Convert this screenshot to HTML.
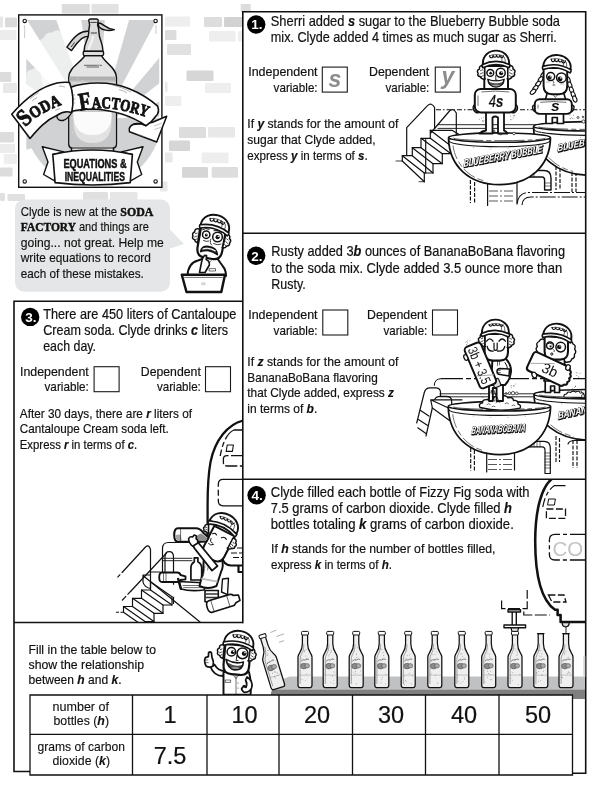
<!DOCTYPE html>
<html lang="en">
<head>
<meta charset="utf-8">
<title>Soda Factory – Equations &amp; Inequalities</title>
<style>
html,body{margin:0;padding:0;background:#fff;}
body{width:600px;height:793px;position:relative;overflow:hidden;font-family:"Liberation Sans",sans-serif;}
svg{position:absolute;left:0;top:0;display:block;will-change:transform;}
text{font-family:"Liberation Sans",sans-serif;fill:#111;}
.m{font-size:14.1px;stroke:#111;stroke-width:.2px;}
.s{font-size:12.4px;stroke:#111;stroke-width:.18px;}
.bb{font-size:13px;stroke:#111;stroke-width:.15px;}
.sf{font-family:"Liberation Serif",serif;font-weight:bold;font-size:13.5px;stroke-width:.5px;}
.v{font-weight:bold;font-style:italic;}
.tl{font-size:12.2px;stroke:#111;stroke-width:.12px;}
.td{font-size:23.5px;text-anchor:middle;stroke:#111;stroke-width:.2px;}
.num{font-size:13.5px;font-weight:bold;fill:#fff;text-anchor:middle;}
.ln{fill:none;stroke:#111;stroke-width:1.6;}
.k{fill:none;stroke:#111;stroke-width:1.2;stroke-linecap:round;stroke-linejoin:round;}
.kw{fill:#fff;stroke:#111;stroke-width:1.2;stroke-linecap:round;stroke-linejoin:round;}
.kt{fill:none;stroke:#111;stroke-width:.6;stroke-linecap:round;stroke-linejoin:round;}
.ktw{fill:#fff;stroke:#111;stroke-width:.6;stroke-linecap:round;stroke-linejoin:round;}
.kb{fill:#fff;stroke:#111;stroke-width:1.5;stroke-linecap:round;stroke-linejoin:round;}
.kd{fill:none;stroke:#111;stroke-width:1.15;stroke-dasharray:5 2 1.5 2;}
.gv{font-size:23px;font-style:italic;font-weight:bold;text-anchor:middle;fill:#8c8c8c;}
</style>
</head>
<body>
<svg width="600" height="793" viewBox="0 0 600 793">
<g id="bricks">
<rect x="61.8" y="4.0" width="28.0" height="9.5" rx="1.2" fill="#dcdcdc"/>
<rect x="91.5" y="4.0" width="27.0" height="9.5" rx="1.2" fill="#e2e2e2"/>
<rect x="240.7" y="4.0" width="10.0" height="8.6" rx="1.2" fill="#dcdcdc"/>
<rect x="0.0" y="16.4" width="3.0" height="11.0" rx="1.2" fill="#e6e6e6"/>
<rect x="5.0" y="17.6" width="12.0" height="9.6" rx="1.2" fill="#dadada"/>
<rect x="0.0" y="30.0" width="16.4" height="10.0" rx="1.2" fill="#ececec"/>
<rect x="0.0" y="72.0" width="11.3" height="10.0" rx="1.2" fill="#dcdcdc"/>
<rect x="3.0" y="83.0" width="14.0" height="10.0" rx="1.2" fill="#e8e8e8"/>
<rect x="0.0" y="132.0" width="14.0" height="10.4" rx="1.2" fill="#dcdcdc"/>
<rect x="0.0" y="144.0" width="15.0" height="9.0" rx="1.2" fill="#ececec"/>
<rect x="3.8" y="154.0" width="13.2" height="10.0" rx="1.2" fill="#eeeeee"/>
<rect x="0.0" y="167.6" width="12.6" height="9.0" rx="1.2" fill="#dcdcdc"/>
<rect x="0.0" y="193.0" width="5.0" height="8.0" rx="1.2" fill="#e0e0e0"/>
<rect x="7.5" y="194.0" width="17.5" height="7.0" rx="1.2" fill="#e0e0e0"/>
<rect x="165.0" y="16.4" width="25.0" height="10.2" rx="1.2" fill="#eeeeee"/>
<rect x="204.0" y="17.0" width="18.0" height="10.0" rx="1.2" fill="#dddddd"/>
<rect x="224.0" y="17.0" width="19.0" height="10.0" rx="1.2" fill="#d2d2d2"/>
<rect x="165.0" y="30.0" width="11.4" height="10.0" rx="1.2" fill="#dcdcdc"/>
<rect x="209.0" y="31.0" width="26.6" height="10.6" rx="1.2" fill="#eeeeee"/>
<rect x="238.0" y="31.0" width="5.0" height="10.6" rx="1.2" fill="#eeeeee"/>
<rect x="167.0" y="44.0" width="24.0" height="11.0" rx="1.2" fill="#e1e1e1"/>
<rect x="186.5" y="70.6" width="27.0" height="10.4" rx="1.2" fill="#d6d6d6"/>
<rect x="205.0" y="83.0" width="26.0" height="10.0" rx="1.2" fill="#eeeeee"/>
<rect x="165.0" y="82.0" width="2.5" height="10.0" rx="1.2" fill="#e8e8e8"/>
<rect x="165.0" y="96.0" width="16.4" height="10.0" rx="1.2" fill="#eeeeee"/>
<rect x="179.0" y="127.0" width="27.0" height="11.0" rx="1.2" fill="#dddddd"/>
<rect x="208.0" y="127.0" width="27.0" height="10.4" rx="1.2" fill="#e8e8e8"/>
<rect x="169.0" y="140.6" width="21.0" height="10.4" rx="1.2" fill="#d6d6d6"/>
<rect x="165.0" y="152.5" width="7.6" height="10.0" rx="1.2" fill="#e8e8e8"/>
<rect x="201.6" y="152.5" width="27.0" height="10.8" rx="1.2" fill="#eeeeee"/>
<rect x="182.0" y="167.0" width="26.0" height="10.7" rx="1.2" fill="#d6d6d6"/>
<rect x="211.7" y="167.0" width="26.3" height="10.7" rx="1.2" fill="#dddddd"/>
<rect x="160.0" y="181.5" width="7.5" height="10.0" rx="1.2" fill="#e8e8e8"/>
<rect x="83.0" y="192.0" width="25.0" height="8.5" rx="1.2" fill="#e0e0e0"/>
<rect x="110.0" y="192.0" width="27.5" height="8.5" rx="1.2" fill="#e6e6e6"/>
</g>
<g id="poster">
<defs><clipPath id="pc"><rect x="26.3" y="20" width="132.9" height="165"/></clipPath></defs>
<rect x="18.4" y="14.6" width="143.8" height="173" fill="#fff"/>
<g clip-path="url(#pc)">
<path d="M97.0,132.0 L-19.6,-54.6 L21.8,-74.7Z M97.0,132.0 L66.4,-85.9 L112.3,-87.5Z M97.0,132.0 L157.6,-79.5 L200.3,-62.2Z M97.0,132.0 L238.4,-36.5 L270.4,-3.4Z M97.0,132.0 L294.7,35.6 L310.5,78.8Z M97.0,132.0 L-116.5,185.2 L-122.9,139.7Z M97.0,132.0 L-119.7,93.8 L-107.0,49.6Z M97.0,132.0 L-85.4,9.0 L-55.8,-26.3Z" fill="#d0d2d3"/>
<path d="M37,50 Q38,40 44,37.5 Q46,32 52,32.5 Q57,28.5 63,32 Q70,29.5 75,35 Q81,36 82,42 L92,100 L45,100 Z" fill="#fff" opacity=".62"/>
<path d="M26,76 Q27,69 32,69.5 Q37,66 41,71 Q46,72 46,78 Q50,81 48,86 L62,104 L26,104Z" fill="#fff" opacity=".62"/>
<path d="M20,112 H166 V190 H20Z" fill="none"/>
<path d="M24.5,118 A68.5,68.5 0 0 0 161.5,118Z" fill="#d0d2d3"/>
</g>
<rect x="18.7" y="14.9" width="143.2" height="172.4" fill="none" stroke="#111" stroke-width="1.4"/>
<circle cx="24.7" cy="20.9" r="1.7" fill="#fff" stroke="#111" stroke-width="1.1"/>
<circle cx="155.6" cy="20.9" r="1.7" fill="#fff" stroke="#111" stroke-width="1.1"/>
<circle cx="24.7" cy="181.4" r="1.7" fill="#fff" stroke="#111" stroke-width="1.1"/>
<circle cx="155.6" cy="181.4" r="1.7" fill="#fff" stroke="#111" stroke-width="1.1"/>
<path d="M24.3,25 q.8,5 .2,13 M155.8,25 q.6,4 0,9" stroke="#ccc" stroke-width="1" fill="none"/>
<path d="M85,55.5 C80,63 68.8,68 68.8,77 V144 Q68.8,147.5 71.5,148 V152.5 Q71.5,156 75,156 H110 Q113.5,156 113.5,152.5 V148 Q116.4,147.5 116.4,144 V77 C116.4,68 105,63 101.5,55.5Z" fill="#e4e4e4" stroke="#111" stroke-width="1.5" stroke-linejoin="round"/>
<path d="M69.6,78 H115.6 V144 Q115.6,147 112.5,147.2 H72.5 Q69.6,147 69.6,144Z" fill="#c6c7c9"/>
<path d="M69.6,76.5 H115.6 V80.5 H69.6Z" fill="#b0b0b0"/>
<path d="M69.6,82 H115.6 V84.5 H69.6Z" fill="#d8d8d8"/>
<path d="M73.5,112 V122 Q73.5,143 92.5,143 Q111.5,143 111.5,122 V112Z" fill="#e2e2e2"/>
<path d="M73.5,112 V117 Q75,135 92.5,135 Q110,135 111.5,117 V112Z" fill="#fbfbfb"/>
<path d="M71.5,148 H113.5" stroke="#111" stroke-width="1" fill="none"/>
<path d="M84,65.3 H102 M86.5,67 H99" stroke="#111" stroke-width=".6" fill="none"/>
<circle cx="81.8" cy="106.8" r=".45" fill="#f4f4f4"/>
<circle cx="87.2" cy="111.9" r=".45" fill="#f4f4f4"/>
<circle cx="97.7" cy="65.6" r=".45" fill="#f4f4f4"/>
<circle cx="72.5" cy="132.0" r=".45" fill="#f4f4f4"/>
<circle cx="82.6" cy="80.2" r=".45" fill="#f4f4f4"/>
<circle cx="112.8" cy="100.4" r=".45" fill="#f4f4f4"/>
<circle cx="106.3" cy="101.0" r=".45" fill="#f4f4f4"/>
<circle cx="98.2" cy="73.0" r=".45" fill="#f4f4f4"/>
<circle cx="98.0" cy="134.7" r=".45" fill="#f4f4f4"/>
<circle cx="93.5" cy="123.7" r=".45" fill="#f4f4f4"/>
<circle cx="99.5" cy="65.5" r=".45" fill="#f4f4f4"/>
<circle cx="103.1" cy="110.8" r=".45" fill="#f4f4f4"/>
<circle cx="84.4" cy="62.7" r=".45" fill="#f4f4f4"/>
<circle cx="107.5" cy="100.7" r=".45" fill="#f4f4f4"/>
<circle cx="101.5" cy="135.6" r=".45" fill="#f4f4f4"/>
<circle cx="101.3" cy="139.2" r=".45" fill="#f4f4f4"/>
<circle cx="88.2" cy="128.9" r=".45" fill="#f4f4f4"/>
<circle cx="90.2" cy="140.5" r=".45" fill="#f4f4f4"/>
<circle cx="77.6" cy="78.7" r=".45" fill="#f4f4f4"/>
<circle cx="111.6" cy="97.5" r=".45" fill="#f4f4f4"/>
<circle cx="97.7" cy="85.9" r=".45" fill="#f4f4f4"/>
<circle cx="92.8" cy="93.2" r=".45" fill="#f4f4f4"/>
<circle cx="86.4" cy="110.3" r=".45" fill="#f4f4f4"/>
<circle cx="96.0" cy="137.8" r=".45" fill="#f4f4f4"/>
<circle cx="100.0" cy="139.9" r=".45" fill="#f4f4f4"/>
<path d="M89.8,36.5 C84,35.5 80,38.5 71.5,50.6 L66.9,47.2 C75,35 81,30.5 89.5,31.3Z" fill="#d6d6d6" stroke="#111" stroke-width="1.4" stroke-linejoin="round"/>
<path d="M71,47 l3.6,-4.6" stroke="#111" stroke-width=".8" fill="none"/>
<path d="M98,22.8 C104,23 105,29 114.3,29.6 C108,31.5 102,30 99,27Z" fill="#d6d6d6" stroke="#111" stroke-width="1.4" stroke-linejoin="round"/>
<path d="M89,21.5 Q88,19 91,19 H96 Q99,19 98,21.5 L97.6,25 Q99,29 99,33 C99,40 103,42 103,51.5 H84 C84,42 88.7,40 88.7,33 Q88.7,29 89.6,25Z" fill="#dcdcdc" stroke="#111" stroke-width="1.4" stroke-linejoin="round"/>
<path d="M93,36 C93,43 89,45 88.5,50" stroke="#f6f6f6" stroke-width="2" fill="none"/>
<path d="M90.3,22.4 H96.8 M90.8,33 H97" stroke="#111" stroke-width=".8" fill="none"/>
<rect x="83.2" y="51.2" width="20.4" height="4.4" rx="1.6" fill="#dcdcdc" stroke="#111" stroke-width="1.4"/>
<path d="M133,124.5 Q128,127 129.5,131.8 L156.7,142 L166.7,116.3 L152,122.5 Z" fill="#fff" stroke="#111" stroke-width="1.5" stroke-linejoin="round"/>
<path d="M154,126 l8,-2.8 M154.5,129.5 l6.5,-2.2 M136,133.5 l8,3" stroke="#888" stroke-width=".5" fill="none"/>
<path d="M71.7,112.5 Q68,119 63,120.5 Q57,121 56.7,115.5 Q60,111 66,110Z" fill="#d0d0d0" stroke="#111" stroke-width="1.4" stroke-linejoin="round"/>
<path d="M70.1,87.5 C84,82 110,80.5 129.2,88.7 C141,93.5 151,100 157.6,106.2 Q160,112 156,116 Q152,122 146,125.8 C132,116 112,110 92.5,109 Q80,109 70.1,111.7 Q75,100 70.1,87.5Z" fill="#fff" stroke="#111" stroke-width="1.6" stroke-linejoin="round"/>
<path d="M146,125.8 Q138,122 133,124.5" stroke="#111" stroke-width="1.5" fill="none"/>
<path d="M11.75,114.3 C24,100 40,87 57,83 Q64,81.8 69.5,82.5 Q75,97 71.7,112.5 Q64,110 56.7,115.5 C46,120 38,129 30,138.5 Z" fill="#fff" stroke="#111" stroke-width="1.6" stroke-linejoin="round"/>
<path d="M30,99 q5,-4.5 9,-6.5 M32,101 q3,-2.5 5,-3.5 M59,86 q4,.3 6,1 M55,110.5 q3,-1.5 5,-1.8 M111,84.5 q12,3 20,7.5 M119,89.5 q5,1.6 8,3.4 M73,95 h2 M73.5,99 h2 M73.2,103 h2" stroke="#666" stroke-width=".5" fill="none"/>
<defs><path id="tp1" d="M25.5,127.5 Q38,112.5 66,103.2"/><path id="tp2" d="M80,110.6 Q101,105.8 124,110.8 T150,120"/></defs>
<text style="font-family:'Liberation Serif',serif;font-weight:bold;font-size:16.5px;fill:#111;stroke:#111;stroke-width:.9px"><textPath href="#tp1" textLength="43.5" lengthAdjust="spacingAndGlyphs"><tspan font-size="24px">S</tspan>ODA</textPath></text>
<text style="font-family:'Liberation Serif',serif;font-weight:bold;font-size:16.5px;fill:#111;stroke:#111;stroke-width:.9px"><textPath href="#tp2" textLength="68" lengthAdjust="spacingAndGlyphs"><tspan font-size="25px">F</tspan>ACTORY</textPath></text>
<path d="M42.3,146.7 L63.8,151.9 V176 L55.1,181.2 L43.6,174.5 L48,162Z" fill="#fff" stroke="#111" stroke-width="1.4" stroke-linejoin="round"/>
<path d="M143,146.7 L121.5,151.9 V176 L130.2,181.2 L141.7,174.5 L137.3,162Z" fill="#fff" stroke="#111" stroke-width="1.4" stroke-linejoin="round"/>
<path d="M52.8,154.4 L63.8,151.9 L63.8,156Z M132.4,154.4 L121.5,151.9 L121.5,156Z" fill="#111" stroke="#111" stroke-width="1" stroke-linejoin="round"/>
<path d="M52.8,154.4 Q92.5,145.5 132.4,154.4 L130.2,182.6 Q92.5,187.5 55.1,182.6Z" fill="#fff" stroke="#111" stroke-width="1.6" stroke-linejoin="round"/>
<text x="63.4" y="167.8" textLength="63.2" lengthAdjust="spacingAndGlyphs" style="font-weight:bold;font-size:12.6px;fill:#111;stroke:#111;stroke-width:.5px">EQUATIONS &amp;</text>
<text x="64.7" y="180.6" textLength="60.3" lengthAdjust="spacingAndGlyphs" style="font-weight:bold;font-size:12.6px;fill:#111;stroke:#111;stroke-width:.5px">INEQUALITIES</text>
</g>
<g id="bubble">
<path d="M24,199.6 H161 a9,9 0 0 1 9,9 V229.5 L184,244 L170,248.5 V282.7 a9,9 0 0 1 -9,9 H24 a9,9 0 0 1 -9,-9 V208.6 a9,9 0 0 1 9,-9z" fill="#e5e6e7"/>
<path d="M187.5,276 Q188,263 198,260.5 L205,258 H217 L223,266.5 Q226,270 226,276Z" fill="#fff" stroke="#111" stroke-linecap="round" stroke-linejoin="round" stroke-width="1.95"/>
<path d="M209.5,268.6 h6 v2.4 h-6z" class="kt"/><path d="M206.6,259.6 l1.6,4.6 l3,-3.6" class="kt"/>
<g transform="rotate(10 211 240)">
<path d="M199,226 V249 Q199,258.5 207.5,258.5 H215.5 Q224,258.5 224,249 V226Z" fill="#fff" stroke="#111" stroke-linecap="round" stroke-linejoin="round" stroke-width="2.2"/>
</g>
<g transform="rotate(8 199 229)"><path d="M199.6,229.0 q-5.0,-0.7 -4.5,3.5 q-2.8,1.4 -1.1,4.2 q-1.1,2.8 2.0,3.5 q0.6,2.1 3.6,2.8 q1.1,-1.4 0.0,0.0 Z" fill="#fff" stroke="#111" stroke-linecap="round" stroke-linejoin="round" stroke-width="1.5"/><path d="M198.2,233.2 l-2.5,1.1 M198.5,236.0 l-3.1,1.7 M198.8,238.8 l-2.2,1.4" fill="none" stroke="#111" stroke-width=".7"/></g>
<g transform="rotate(14 226 234)"><path d="M226.0,234.0 q5.0,-0.7 4.5,3.6 q2.8,1.5 1.1,4.3 q1.1,2.9 -2.0,3.6 q-0.6,2.2 -3.6,2.9 q-1.1,-1.5 0.0,0.0 Z" fill="#fff" stroke="#111" stroke-linecap="round" stroke-linejoin="round" stroke-width="1.5"/><path d="M227.4,238.3 l2.5,1.2 M227.1,241.2 l3.1,1.7 M226.8,244.2 l2.2,1.5" fill="none" stroke="#111" stroke-width=".7"/></g>
<g transform="translate(214.3 229.4) rotate(16.0)"><path d="M-14.5,-1 C-14.8,-19.1 14.8,-19.1 14.5,-1 Z" fill="#fff" stroke="#111" stroke-linecap="round" stroke-linejoin="round" stroke-width="1.9"/><path d="M-7.0,-10.0 a1.9,2.9 0 0 0 3.8,0 M-3.2,-10.5 a1.9,2.9 0 0 0 3.8,0 M0.6,-10.5 a1.9,2.9 0 0 0 3.8,0 M4.4,-10.0 a1.9,2.9 0 0 0 3.8,0 " fill="none" stroke="#111" stroke-width="1.1"/><path d="M-7.8,-9.0 Q0,-12.5 8.7,-8.7" fill="none" stroke="#111" stroke-width=".6"/><path d="M5.8,-10.1 q1,3 .5,6 M9.0,-8.4 q1.3,3 1,6" fill="none" stroke="#111" stroke-width=".6"/><path d="M-15.1,-.5 Q0,-7.2 15.1,-.5 Q15.5,1.2 14.3,2.6 Q0,-4.1 -14.3,2.6 Q-15.5,1.2 -15.1,-.5Z" fill="#fff" stroke="#111" stroke-linecap="round" stroke-linejoin="round" stroke-width="1.6"/></g>
<circle cx="206.2" cy="234.7" r="3.7" fill="#fff" stroke="#111" stroke-width="1.5"/><circle cx="206.3" cy="234.9" r="1.5" fill="#111"/><circle cx="206.8" cy="234.3" r="0.5" fill="#fff"/>
<circle cx="217.5" cy="237.0" r="4.8" fill="#fff" stroke="#111" stroke-width="1.5"/><circle cx="217.6" cy="237.2" r="2.1" fill="#111"/><circle cx="218.3" cy="236.4" r="0.7" fill="#fff"/>
<path d="M202.6,229.6 q3,-2 6.6,-.4 M214,230.6 q4,-1 7.600000000000001,1.8" class="k" style="stroke-width:1"/>
<path d="M203.5,240.5 q2.6,1.6 5.4,.6 M213.6,243.6 q3.6,2 7.4,.6 M210.8,239 q-1.4,4 .8,6" class="k" style="stroke-width:.8"/>
<path d="M200.6,251.6 Q201.6,245.4 209,246.6 Q216.6,247.6 217.4,254.6 Q213,251 208.6,250.6 Q204,250.4 200.6,251.6Z" fill="#555" stroke="#111" stroke-linecap="round" stroke-linejoin="round" stroke-width="1.59"/>
<path d="M202.6,249 Q209,246.8 215.6,251" stroke="#fff" stroke-width="1.2" fill="none"/>
<path d="M199.5,272.5 L201.6,262 Q202,258.6 204.4,255.4 L206.6,255.6 L206.2,259.6 Q209.6,261 209.4,265 L205,272.5Z" fill="#fff" stroke="#111" stroke-linecap="round" stroke-linejoin="round" stroke-width="1.59"/>
<path d="M181.8,274.8 H225 L221.3,292 H186.5Z" fill="#fff" stroke="#111" stroke-linecap="round" stroke-linejoin="round" stroke-width="2.44"/>
<path d="M184.6,277.4 H222.4" class="kt"/>
<ellipse cx="203.4" cy="283.8" rx="2.6" ry="1.7" fill="#d8d8d8"/>
</g>
<g id="art1">
<defs><clipPath id="c1"><rect x="243" y="12" width="342.5" height="221"/></clipPath></defs>
<g clip-path="url(#c1)">
<path d="M436,109.7 H585" class="kd"/>
<path d="M438,124.7 H585 M438,128.4 H585" class="k" style="stroke-width:.9"/>
<path d="M430.3,130.3 H452 L470,141" class="k"/>
<path d="M402.3,161.0 L402.3,155.7 L412.3,155.7 L412.3,147.7 L421.0,147.7 L421.0,138.3 L430.3,138.3 L430.3,130.3 L451.0,146.0 L451.0,153.7 L442.3,153.7 L442.3,163.7 L433.0,163.7 L433.0,173.0 L424.3,173.0 L424.3,181.7Z" fill="#fff" stroke="none"/>
<path d="M402.3,161.0 L402.3,155.7 L412.3,155.7 L412.3,147.7 L421.0,147.7 L421.0,138.3 L430.3,138.3 L430.3,130.3" class="k"/>
<path d="M424.3,181.7 L424.3,173.0 L433.0,173.0 L433.0,163.7 L442.3,163.7 L442.3,153.7 L451.0,153.7 L451.0,146.0" class="k"/>
<path d="M402.3,161.0 L424.3,181.7" class="k"/>
<path d="M402.3,155.7 L424.3,173.0" class="k"/>
<path d="M412.3,155.7 L433.0,173.0" class="k"/>
<path d="M412.3,147.7 L433.0,163.7" class="k"/>
<path d="M421.0,147.7 L442.3,163.7" class="k"/>
<path d="M421.0,138.3 L442.3,153.7" class="k"/>
<path d="M430.3,138.3 L451.0,153.7" class="k"/>
<path d="M430.3,130.3 L451.0,146.0" class="k"/>
<path d="M396,161 H402.3 M419,181.7 H424.3" class="k" style="stroke-width:.8"/>
<path d="M406.7,155.5 V127.7 L427.5,105.6 Q431.5,102 434.6,107.5 V128.5" class="k"/>
<path d="M425.7,173 V139.5 M430.7,133 L449.5,111 Q453.5,107.5 456.3,113 V135" class="k"/>
<path d="M556,166 V190 M560,168 V190 M572,172 V192 M576,172 V192" class="kd" style="stroke-dasharray:4 1.5"/>
<path d="M533.5,127.3 C534.5,155.7 556.1,175.3 590.0,175.3 C623.9,175.3 645.5,155.7 646.5,127.3 Z" fill="#fff" stroke="#111" stroke-linecap="round" stroke-linejoin="round" stroke-width="1.7"/>
<path d="M538.0,134.3 C540.5,153.2 555.0,167.5 573.0,171.4" fill="none" stroke="#111" stroke-width=".6" stroke-dasharray="14 3 6 3"/>
<path d="M534.1,129.5 A55.9,5.9 0 0 0 645.9,129.5" fill="none" stroke="#111" stroke-linecap="round" stroke-linejoin="round" stroke-width="1.1"/>
<ellipse cx="590.0" cy="126.3" rx="56.5" ry="4.7" fill="#fff" stroke="#111" stroke-linecap="round" stroke-linejoin="round" stroke-width="1.6"/>
<path d="M538.5,126.7 A51.5,2.7 0 0 0 641.5,126.7" fill="none" stroke="#111" stroke-width=".7" stroke-dasharray="30 3 5 3"/>
<circle cx="541.5" cy="132.5" r=".5" fill="#999"/>
<circle cx="560.9" cy="135.8" r=".5" fill="#999"/>
<circle cx="580.3" cy="137.5" r=".5" fill="#999"/>
<circle cx="599.7" cy="137.5" r=".5" fill="#999"/>
<circle cx="619.1" cy="135.8" r=".5" fill="#999"/>
<circle cx="638.5" cy="132.5" r=".5" fill="#999"/>
<text x=".8" y=".9" transform="translate(557.5 151.5) rotate(-12.0) skewX(-12)" textLength="50.0" lengthAdjust="spacingAndGlyphs" style="font-weight:bold;font-style:italic;font-size:9.6px;fill:#111;stroke:#111;stroke-width:1.1px">BLUEBERRY</text>
<text x="0" y="0" transform="translate(557.5 151.5) rotate(-12.0) skewX(-12)" textLength="50.0" lengthAdjust="spacingAndGlyphs" style="font-weight:bold;font-style:italic;font-size:9.6px;fill:#fff;stroke:#111;stroke-width:.8px;paint-order:stroke">BLUEBERRY</text>
<path d="M470.4,180 V203 M474.6,182 V203" class="kd" style="stroke-dasharray:4 1.5"/>
<path d="M487.6,183 V205.5 M517,183 V203" class="k"/>
<path d="M489,191 H515 M489,196 H515 M489,201 H515" class="kd" style="stroke-dasharray:9 2 2 2;stroke-width:.7"/>
<path d="M517,204.5 Q518,192.5 529,192.5 H585 M522,205 Q522.5,197 531,197 H585" class="kd" style="stroke-dasharray:16 2 2 2"/>
<path d="M526,170.5 H544 Q551,170.5 551,178 V190 H544.6 V180 Q544.6,177 542,177 H528 Z" class="kw" style="stroke-width:1.4"/>
<path d="M545,183 h5.5 M545,186 h5.5 M531,171.5 v5.5 M534,171.5 v5.5" class="kt"/>
<path d="M448.5,138.6 C449.5,165.8 468.9,184.6 499.5,184.6 C530.1,184.6 549.5,165.8 550.5,138.6 Z" fill="#fff" stroke="#111" stroke-linecap="round" stroke-linejoin="round" stroke-width="1.7"/>
<path d="M453.0,145.6 C455.5,163.4 467.9,177.1 484.2,180.8" fill="none" stroke="#111" stroke-width=".6" stroke-dasharray="14 3 6 3"/>
<path d="M449.1,140.8 A50.4,5.9 0 0 0 549.9,140.8" fill="none" stroke="#111" stroke-linecap="round" stroke-linejoin="round" stroke-width="1.1"/>
<ellipse cx="499.5" cy="137.6" rx="51.0" ry="4.7" fill="#fff" stroke="#111" stroke-linecap="round" stroke-linejoin="round" stroke-width="1.6"/>
<path d="M453.5,138.0 A46.0,2.7 0 0 0 545.5,138.0" fill="none" stroke="#111" stroke-width=".7" stroke-dasharray="30 3 5 3"/>
<circle cx="456.5" cy="144.0" r=".5" fill="#999"/>
<circle cx="473.7" cy="147.2" r=".5" fill="#999"/>
<circle cx="490.9" cy="148.8" r=".5" fill="#999"/>
<circle cx="508.1" cy="148.8" r=".5" fill="#999"/>
<circle cx="525.3" cy="147.2" r=".5" fill="#999"/>
<circle cx="542.5" cy="144.0" r=".5" fill="#999"/>
<text x=".8" y=".9" transform="translate(463.5 167.0) rotate(-10.5) skewX(-12)" textLength="80.0" lengthAdjust="spacingAndGlyphs" style="font-weight:bold;font-style:italic;font-size:10.6px;fill:#111;stroke:#111;stroke-width:1.1px">BLUEBERRY BUBBLE</text>
<text x="0" y="0" transform="translate(463.5 167.0) rotate(-10.5) skewX(-12)" textLength="80.0" lengthAdjust="spacingAndGlyphs" style="font-weight:bold;font-style:italic;font-size:10.6px;fill:#fff;stroke:#111;stroke-width:.8px;paint-order:stroke">BLUEBERRY BUBBLE</text>
<circle cx="482.3" cy="120.7" r=".45" fill="#555"/>
<circle cx="483.2" cy="121.7" r=".45" fill="#555"/>
<circle cx="482.9" cy="121.6" r=".45" fill="#555"/>
<circle cx="479.3" cy="119.3" r=".45" fill="#555"/>
<circle cx="483.9" cy="120.2" r=".45" fill="#555"/>
<circle cx="483.7" cy="117.6" r=".45" fill="#555"/>
<circle cx="481.5" cy="118.2" r=".45" fill="#555"/>
<circle cx="513.2" cy="118.0" r=".45" fill="#555"/>
<circle cx="510.6" cy="116.2" r=".45" fill="#555"/>
<circle cx="511.9" cy="119.7" r=".45" fill="#555"/>
<circle cx="514.3" cy="115.9" r=".45" fill="#555"/>
<circle cx="514.5" cy="115.8" r=".45" fill="#555"/>
<circle cx="513.6" cy="115.7" r=".45" fill="#555"/>
<circle cx="510.5" cy="119.5" r=".45" fill="#555"/>
<circle cx="570.1" cy="115.1" r=".45" fill="#555"/>
<circle cx="574.0" cy="118.4" r=".45" fill="#555"/>
<circle cx="570.5" cy="118.8" r=".45" fill="#555"/>
<circle cx="571.8" cy="117.4" r=".45" fill="#555"/>
<circle cx="570.1" cy="118.7" r=".45" fill="#555"/>
<circle cx="572.6" cy="118.8" r=".45" fill="#555"/>
<circle cx="573.6" cy="115.5" r=".45" fill="#555"/>
<circle cx="578.0" cy="117.5" r="1.0" fill="#fff" stroke="#111" stroke-width=".7"/>
<circle cx="583.0" cy="117.0" r="0.8" fill="#fff" stroke="#111" stroke-width=".7"/>
<circle cx="583.5" cy="121.5" r="1.6" fill="#fff" stroke="#111" stroke-width=".7"/>
<circle cx="494.0" cy="131.0" r="1.0" fill="#fff" stroke="#111" stroke-width=".7"/>
<circle cx="500.5" cy="133.5" r="1.4" fill="#fff" stroke="#111" stroke-width=".7"/>
<circle cx="514.0" cy="133.5" r="1.3" fill="#fff" stroke="#111" stroke-width=".7"/>
<path d="M486,110 V130.5 Q482,131 479.5,133.5 H492.5 V117.5 Q495,115.5 498,117.5 V133.5 H507.5 Q506,131 504,130.5 V110Z" fill="#fff" stroke="#111" stroke-linecap="round" stroke-linejoin="round" stroke-width="1.83"/>
<path d="M484.3,112 V66 H508 V112Z" fill="#fff" stroke="#111" stroke-linecap="round" stroke-linejoin="round" stroke-width="1.95"/>
<path d="M484.6,65.5 q-5.9,-0.7 -5.2,3.5 q-3.2,1.4 -1.3,4.2 q-1.3,2.8 2.3,3.5 q0.7,2.1 4.2,2.8 q1.3,-1.4 0.0,0.0 Z" fill="#fff" stroke="#111" stroke-linecap="round" stroke-linejoin="round" stroke-width="1.5"/><path d="M483.0,69.7 l-2.9,1.1 M483.3,72.5 l-3.6,1.7 M483.6,75.3 l-2.6,1.4" fill="none" stroke="#111" stroke-width=".7"/>
<path d="M507.8,65.5 q5.9,-0.7 5.2,3.5 q3.2,1.4 1.3,4.2 q1.3,2.8 -2.3,3.5 q-0.7,2.1 -4.2,2.8 q-1.3,-1.4 0.0,0.0 Z" fill="#fff" stroke="#111" stroke-linecap="round" stroke-linejoin="round" stroke-width="1.5"/><path d="M509.4,69.7 l2.9,1.1 M509.1,72.5 l3.6,1.7 M508.8,75.3 l2.6,1.4" fill="none" stroke="#111" stroke-width=".7"/>
<g transform="translate(496.0 65.2) rotate(0.0)"><path d="M-13.2,-1 C-13.5,-19.1 13.5,-19.1 13.2,-1 Z" fill="#fff" stroke="#111" stroke-linecap="round" stroke-linejoin="round" stroke-width="1.9"/><path d="M-6.4,-10.0 a1.7,2.6 0 0 0 3.4,0 M-2.9,-10.5 a1.7,2.6 0 0 0 3.4,0 M0.5,-10.5 a1.7,2.6 0 0 0 3.4,0 M4.0,-10.0 a1.7,2.6 0 0 0 3.4,0 " fill="none" stroke="#111" stroke-width="1.1"/><path d="M-7.2,-9.0 Q0,-12.5 7.9,-8.7" fill="none" stroke="#111" stroke-width=".6"/><path d="M5.3,-10.1 q1,3 .5,6 M8.2,-8.4 q1.3,3 1,6" fill="none" stroke="#111" stroke-width=".6"/><path d="M-13.8,-.5 Q0,-7.2 13.8,-.5 Q14.2,1.2 13.1,2.6 Q0,-4.1 -13.1,2.6 Q-14.2,1.2 -13.8,-.5Z" fill="#fff" stroke="#111" stroke-linecap="round" stroke-linejoin="round" stroke-width="1.6"/></g>
<circle cx="490.3" cy="72.9" r="3.4" fill="#fff" stroke="#111" stroke-width="1.5"/><circle cx="490.7" cy="73.2" r="1.4" fill="#111"/><circle cx="491.2" cy="72.6" r="0.4" fill="#fff"/>
<circle cx="500.7" cy="72.8" r="4.5" fill="#fff" stroke="#111" stroke-width="1.5"/><circle cx="501.1" cy="73.2" r="2.0" fill="#111"/><circle cx="501.8" cy="72.4" r="0.6" fill="#fff"/>
<path d="M495.8,75.5 V80.2 H497.3" class="k" style="stroke-width:.9"/>
<path d="M487.8,79.3 Q496,82.5 504.2,79.3 Q503.5,87 496,87 Q488.5,87 487.8,79.3Z" fill="#4d4d4d" stroke="#111" stroke-linecap="round" stroke-linejoin="round" stroke-width="1.38"/>
<path d="M489,80.2 Q496,83 503,80.2 L502.6,82 Q496,84.6 489.4,82Z" fill="#fff"/>
<path d="M491.5,85.6 Q496,83.6 500.5,85.6 Q496,87.4 491.5,85.6Z" fill="#9a9a9a"/>
<ellipse cx="476.6" cy="108.6" rx="3.2" ry="4.2" transform="rotate(-25 476.6 108.6)" fill="#fff" stroke="#111" stroke-linecap="round" stroke-linejoin="round" stroke-width="1.59"/>
<ellipse cx="514" cy="108.6" rx="3.2" ry="4.2" transform="rotate(25 514 108.6)" fill="#fff" stroke="#111" stroke-linecap="round" stroke-linejoin="round" stroke-width="1.59"/>
<g><rect x="474.8" y="88.9" width="41.0" height="23.6" rx="6.0" fill="#fff" stroke="#111" stroke-linecap="round" stroke-linejoin="round" stroke-width="2.0"/><path d="M481.8,91.9 q13.5,-1.6 27.0,0 M478.0,95.9 v9.6" fill="none" stroke="#111" stroke-width=".6" stroke-linecap="round"/></g>
<text x="488.8" y="106.6" textLength="14.6" lengthAdjust="spacingAndGlyphs" style="font-size:16.6px;font-style:italic;fill:#111;stroke:#111;stroke-width:.2px">4<tspan style="font-weight:bold">s</tspan></text>
<path d="M546,111 V123.5 H552.3 V117.5 H557.3 V123.5 H563.5 V111Z" fill="#fff" stroke="#111" stroke-linecap="round" stroke-linejoin="round" stroke-width="1.71"/>
<ellipse cx="543.2" cy="75.0" rx="1.9" ry="3.2" transform="rotate(35.0 543.2 75.0)" fill="#fff" stroke="#111" stroke-linecap="round" stroke-linejoin="round" stroke-width="1.1"/><ellipse cx="540.6" cy="79.5" rx="1.9" ry="3.2" transform="rotate(35.0 540.6 79.5)" fill="#fff" stroke="#111" stroke-linecap="round" stroke-linejoin="round" stroke-width="1.1"/><ellipse cx="538.0" cy="84.0" rx="1.9" ry="3.2" transform="rotate(40.0 538.0 84.0)" fill="#fff" stroke="#111" stroke-linecap="round" stroke-linejoin="round" stroke-width="1.1"/><ellipse cx="535.4" cy="88.2" rx="1.9" ry="3.2" transform="rotate(45.0 535.4 88.2)" fill="#fff" stroke="#111" stroke-linecap="round" stroke-linejoin="round" stroke-width="1.1"/><ellipse cx="533.0" cy="91.8" rx="1.9" ry="3.2" transform="rotate(50.0 533.0 91.8)" fill="#fff" stroke="#111" stroke-linecap="round" stroke-linejoin="round" stroke-width="1.1"/>
<ellipse cx="568.2" cy="80.0" rx="1.9" ry="3.2" transform="rotate(-18.0 568.2 80.0)" fill="#fff" stroke="#111" stroke-linecap="round" stroke-linejoin="round" stroke-width="1.1"/><ellipse cx="569.8" cy="85.0" rx="1.9" ry="3.2" transform="rotate(-20.0 569.8 85.0)" fill="#fff" stroke="#111" stroke-linecap="round" stroke-linejoin="round" stroke-width="1.1"/><ellipse cx="571.5" cy="90.0" rx="1.9" ry="3.2" transform="rotate(-20.0 571.5 90.0)" fill="#fff" stroke="#111" stroke-linecap="round" stroke-linejoin="round" stroke-width="1.1"/><ellipse cx="573.3" cy="94.8" rx="1.9" ry="3.2" transform="rotate(-22.0 573.3 94.8)" fill="#fff" stroke="#111" stroke-linecap="round" stroke-linejoin="round" stroke-width="1.1"/><ellipse cx="574.8" cy="99.0" rx="1.9" ry="3.2" transform="rotate(-22.0 574.8 99.0)" fill="#fff" stroke="#111" stroke-linecap="round" stroke-linejoin="round" stroke-width="1.1"/>
<path d="M547.5,92 H563.5 L566,101 H545Z" fill="#fff" stroke="#111" stroke-linecap="round" stroke-linejoin="round" stroke-width="1.59"/>
<path d="M553,94.5 l2.3,3 l2.3,-3" class="kt"/>
<path d="M543.6,68 V86 Q543.6,94.2 552,94.2 H559 Q567.2,94.2 567.2,86 V68Z" fill="#fff" stroke="#111" stroke-linecap="round" stroke-linejoin="round" stroke-width="1.95"/>
<ellipse cx="548" cy="82" rx="2.4" ry="1.2" fill="#ddd"/><ellipse cx="562" cy="84" rx="2.6" ry="1.2" fill="#ddd"/>
<g transform="translate(556.8 68.6) rotate(7.0)"><path d="M-13.8,-1 C-14.0,-17.8 14.0,-17.8 13.8,-1 Z" fill="#fff" stroke="#111" stroke-linecap="round" stroke-linejoin="round" stroke-width="1.9"/><path d="M-6.6,-9.2 a1.8,2.8 0 0 0 3.6,0 M-3.0,-9.7 a1.8,2.8 0 0 0 3.6,0 M0.6,-9.7 a1.8,2.8 0 0 0 3.6,0 M4.1,-9.2 a1.8,2.8 0 0 0 3.6,0 " fill="none" stroke="#111" stroke-width="1.1"/><path d="M-7.4,-8.4 Q0,-11.6 8.2,-8.1" fill="none" stroke="#111" stroke-width=".6"/><path d="M5.5,-9.4 q1,3 .5,6 M8.5,-7.8 q1.3,3 1,6" fill="none" stroke="#111" stroke-width=".6"/><path d="M-14.3,-.5 Q0,-6.8 14.3,-.5 Q14.8,1.2 13.6,2.6 Q0,-3.8 -13.6,2.6 Q-14.8,1.2 -14.3,-.5Z" fill="#fff" stroke="#111" stroke-linecap="round" stroke-linejoin="round" stroke-width="1.6"/></g>
<circle cx="550.7" cy="76.6" r="4.0" fill="#fff" stroke="#111" stroke-width="1.5"/><circle cx="549.6" cy="77.6" r="2.0" fill="#111"/><circle cx="550.3" cy="76.8" r="0.6" fill="#fff"/>
<circle cx="561.4" cy="77.7" r="4.8" fill="#fff" stroke="#111" stroke-width="1.5"/><circle cx="560.1" cy="78.9" r="2.4" fill="#111"/><circle cx="560.9" cy="77.9" r="0.8" fill="#fff"/>
<path d="M553.4,81.6 q.9,1 .2,1.6 M553,85 h1.8" class="k" style="stroke-width:.8"/>
<ellipse cx="535.6" cy="108.5" rx="2.7" ry="3.6" transform="rotate(-25 535.6 108.5)" fill="#fff" stroke="#111" stroke-linecap="round" stroke-linejoin="round" stroke-width="1.38"/>
<ellipse cx="571" cy="108.5" rx="2.7" ry="3.6" transform="rotate(25 571 108.5)" fill="#fff" stroke="#111" stroke-linecap="round" stroke-linejoin="round" stroke-width="1.38"/>
<g><rect x="534.8" y="99.3" width="37.0" height="14.6" rx="4.8" fill="#fff" stroke="#111" stroke-linecap="round" stroke-linejoin="round" stroke-width="1.9"/><path d="M540.6,102.3 q12.7,-1.6 25.4,0 M538.0,105.1 v3.0" fill="none" stroke="#111" stroke-width=".6" stroke-linecap="round"/></g>
<text x="551" y="110.7" style="font-size:15.5px;font-style:italic;font-weight:bold;fill:#111">s</text>
</g>
</g>
<g id="art2">
<defs><clipPath id="c2"><rect x="243" y="234" width="342.5" height="245"/></clipPath></defs>
<g clip-path="url(#c2)">
<path d="M441,378.7 H585" class="kd" style="stroke-dasharray:22 3 5 3;stroke-width:1.2"/>
<path d="M434.3,385.4 Q434.3,378.7 441,378.7" class="k" style="stroke-width:1"/>
<path d="M440,393.8 H585 M440,396.8 H585" class="k" style="stroke-width:.9"/>
<path d="M416.7,423 L424.3,392.5 Q425.5,387.8 430,387.8 H435.5 Q440.3,387.8 440.5,392 V396.3" class="k"/>
<path d="M426,436 L433.2,404" class="k"/>
<path d="M420.2,410.3 L428.9,416.1 M418.4,419.6 L427.7,425.4 M417.8,427.8 L426,433.6" class="k"/>
<path d="M430.7,399.8 H470 V412 L449.3,420.2 L432.4,408Z" fill="#fff" stroke="none"/>
<path d="M430.7,399.8 H462 M430.7,399.8 L449,408.3 M430.7,399.8 L432.4,408 L449.5,420.4" class="k"/>
<path d="M434.7,399.5 Q436,396.3 440,396.3 H446 Q451.7,396.3 451.7,401 V405" class="k"/>
<path d="M556,436 V462 M559.5,438 V462 M573,440 V468 M577,440 V468" class="kd" style="stroke-dasharray:4 1.5"/>
<path d="M568,444 Q569,440.5 575,440.5 H586" class="k"/>
<path d="M534.0,395.2 C535.0,421.8 556.8,440.2 591.0,440.2 C625.2,440.2 647.0,421.8 648.0,395.2 Z" fill="#fff" stroke="#111" stroke-linecap="round" stroke-linejoin="round" stroke-width="1.7"/>
<path d="M538.5,402.2 C541.0,419.5 555.7,432.8 573.9,436.5" fill="none" stroke="#111" stroke-width=".6" stroke-dasharray="14 3 6 3"/>
<path d="M534.6,397.4 A56.4,5.9 0 0 0 647.4,397.4" fill="none" stroke="#111" stroke-linecap="round" stroke-linejoin="round" stroke-width="1.1"/>
<ellipse cx="591.0" cy="394.2" rx="57.0" ry="4.7" fill="#fff" stroke="#111" stroke-linecap="round" stroke-linejoin="round" stroke-width="1.6"/>
<path d="M539.0,394.6 A52.0,2.7 0 0 0 643.0,394.6" fill="none" stroke="#111" stroke-width=".7" stroke-dasharray="30 3 5 3"/>
<circle cx="542.0" cy="400.4" r=".5" fill="#999"/>
<circle cx="561.6" cy="403.7" r=".5" fill="#999"/>
<circle cx="581.2" cy="405.4" r=".5" fill="#999"/>
<circle cx="600.8" cy="405.4" r=".5" fill="#999"/>
<circle cx="620.4" cy="403.7" r=".5" fill="#999"/>
<circle cx="640.0" cy="400.4" r=".5" fill="#999"/>
<text x=".8" y=".9" transform="translate(558.0 419.0) rotate(-12.0) skewX(-12)" textLength="48.0" lengthAdjust="spacingAndGlyphs" style="font-weight:bold;font-style:italic;font-size:9.6px;fill:#111;stroke:#111;stroke-width:1.1px">BANANABO</text>
<text x="0" y="0" transform="translate(558.0 419.0) rotate(-12.0) skewX(-12)" textLength="48.0" lengthAdjust="spacingAndGlyphs" style="font-weight:bold;font-style:italic;font-size:9.6px;fill:#fff;stroke:#111;stroke-width:.8px;paint-order:stroke">BANANABO</text>
<path d="M470.7,448 V470.5 M474.4,450 V470.5" class="kd" style="stroke-dasharray:4 1.5"/>
<path d="M486.7,452 V472 M514.5,452 V470" class="k"/>
<path d="M488,459.5 H513 M488,464.5 H513 M488,469.5 H513" class="kd" style="stroke-dasharray:9 2 2 2;stroke-width:.7"/>
<path d="M526,441.3 H544 Q550.3,441.3 550.3,448 V473.5 H545 V450 Q545,446.8 542,446.8 H528 Z" class="kw" style="stroke-width:1.2"/>
<path d="M545,453 h5.3 M545,456 h5.3 M545,459 h5.3 M545,462 h5.3 M545,465 h5.3 M545,468 h5.3 M531,441.3 v5.5 M534,441.3 v5.5 M537,441.3 v5.5 M540,441.3 v5.5" class="kt"/>
<path d="M448.2,407.3 C449.2,435.3 468.7,454.6 499.4,454.6 C530.1,454.6 549.6,435.3 550.6,407.3 Z" fill="#fff" stroke="#111" stroke-linecap="round" stroke-linejoin="round" stroke-width="1.7"/>
<path d="M452.7,414.3 C455.2,432.9 467.7,446.9 484.0,450.7" fill="none" stroke="#111" stroke-width=".6" stroke-dasharray="14 3 6 3"/>
<path d="M448.8,409.5 A50.6,5.9 0 0 0 550.0,409.5" fill="none" stroke="#111" stroke-linecap="round" stroke-linejoin="round" stroke-width="1.1"/>
<ellipse cx="499.4" cy="406.3" rx="51.2" ry="4.7" fill="#fff" stroke="#111" stroke-linecap="round" stroke-linejoin="round" stroke-width="1.6"/>
<path d="M453.2,406.7 A46.2,2.7 0 0 0 545.6,406.7" fill="none" stroke="#111" stroke-width=".7" stroke-dasharray="30 3 5 3"/>
<circle cx="456.2" cy="412.7" r=".5" fill="#999"/>
<circle cx="473.5" cy="415.9" r=".5" fill="#999"/>
<circle cx="490.8" cy="417.5" r=".5" fill="#999"/>
<circle cx="508.0" cy="417.5" r=".5" fill="#999"/>
<circle cx="525.3" cy="415.9" r=".5" fill="#999"/>
<circle cx="542.6" cy="412.7" r=".5" fill="#999"/>
<text x=".8" y=".9" transform="translate(471.0 434.0) rotate(-3.0) skewX(-12)" textLength="54.0" lengthAdjust="spacingAndGlyphs" style="font-weight:bold;font-style:italic;font-size:10.5px;fill:#111;stroke:#111;stroke-width:1.1px">BANANABOBANA</text>
<text x="0" y="0" transform="translate(471.0 434.0) rotate(-3.0) skewX(-12)" textLength="54.0" lengthAdjust="spacingAndGlyphs" style="font-weight:bold;font-style:italic;font-size:10.5px;fill:#fff;stroke:#111;stroke-width:.8px;paint-order:stroke">BANANABOBANA</text>
<path d="M480,407.5 q-2,-4 2.5,-4.6 q0,-4 5,-3.2 q2,-3.6 6,-1.4 q3,-4.4 7.5,-1 q4,-3.4 7,.6 q4.6,-1.6 5.6,2.6 q4.6,-.6 4.4,3.6 q3.6,1 2,4 q-20,4.4 -40,-.6z" fill="#fff" stroke="#111" stroke-linecap="round" stroke-linejoin="round" stroke-width="1.38"/>
<path d="M487,404.5 q1.5,-2 3.4,0 M496,402.5 q2.4,-2 4,0 M505,403.6 q2,-1.8 3.6,0 M512,405.5 q1.6,-1.4 3,0 M492,406.6 q1.6,-1.4 3,0" class="kt"/>
<path d="M564,397 q-.5,-3 2.6,-3 q1,-3 4,-1.6 q2.4,-2.6 5,-.3 q3,-2 5,.6 q3,-.6 3.4,2 l2,3z" fill="#fff" stroke="#111" stroke-linecap="round" stroke-linejoin="round" stroke-width="1.15"/>
<circle cx="513.3" cy="385.4" r=".45" fill="#555"/>
<circle cx="511.7" cy="387.8" r=".45" fill="#555"/>
<circle cx="511.0" cy="386.0" r=".45" fill="#555"/>
<circle cx="515.5" cy="383.9" r=".45" fill="#555"/>
<circle cx="513.8" cy="386.6" r=".45" fill="#555"/>
<circle cx="511.2" cy="385.4" r=".45" fill="#555"/>
<circle cx="514.5" cy="385.8" r=".45" fill="#555"/>
<circle cx="483.6" cy="393.8" r=".45" fill="#555"/>
<circle cx="481.2" cy="393.6" r=".45" fill="#555"/>
<circle cx="482.5" cy="397.6" r=".45" fill="#555"/>
<circle cx="483.0" cy="396.9" r=".45" fill="#555"/>
<circle cx="481.9" cy="396.7" r=".45" fill="#555"/>
<circle cx="480.5" cy="394.5" r=".45" fill="#555"/>
<circle cx="483.4" cy="396.6" r=".45" fill="#555"/>
<circle cx="467.6" cy="340.9" r=".45" fill="#555"/>
<circle cx="466.8" cy="341.5" r=".45" fill="#555"/>
<circle cx="466.9" cy="344.5" r=".45" fill="#555"/>
<circle cx="466.5" cy="344.9" r=".45" fill="#555"/>
<circle cx="469.9" cy="340.8" r=".45" fill="#555"/>
<circle cx="467.4" cy="343.0" r=".45" fill="#555"/>
<circle cx="465.6" cy="342.6" r=".45" fill="#555"/>
<circle cx="580.5" cy="373.1" r=".45" fill="#555"/>
<circle cx="579.0" cy="373.1" r=".45" fill="#555"/>
<circle cx="578.9" cy="377.0" r=".45" fill="#555"/>
<circle cx="577.0" cy="372.5" r=".45" fill="#555"/>
<circle cx="576.4" cy="375.2" r=".45" fill="#555"/>
<circle cx="576.1" cy="372.9" r=".45" fill="#555"/>
<circle cx="578.5" cy="377.1" r=".45" fill="#555"/>
<circle cx="574.6" cy="387.5" r=".45" fill="#555"/>
<circle cx="575.7" cy="386.0" r=".45" fill="#555"/>
<circle cx="575.4" cy="386.4" r=".45" fill="#555"/>
<circle cx="575.5" cy="390.3" r=".45" fill="#555"/>
<circle cx="572.8" cy="388.3" r=".45" fill="#555"/>
<circle cx="575.5" cy="386.2" r=".45" fill="#555"/>
<circle cx="573.8" cy="390.5" r=".45" fill="#555"/>
<circle cx="506.0" cy="393.3" r="0.8" fill="#fff" stroke="#111" stroke-width=".7"/>
<circle cx="509.5" cy="393.2" r="1.3" fill="#fff" stroke="#111" stroke-width=".7"/>
<circle cx="513.0" cy="393.2" r="1.7" fill="#fff" stroke="#111" stroke-width=".7"/>
<circle cx="516.8" cy="393.3" r="1.3" fill="#fff" stroke="#111" stroke-width=".7"/>
<circle cx="580.5" cy="392.0" r="1.1" fill="#fff" stroke="#111" stroke-width=".7"/>
<circle cx="583.0" cy="396.0" r="1.5" fill="#fff" stroke="#111" stroke-width=".7"/>
<path d="M489,382 V401 H492.8 V388 H496.6 V401 H503 V382Z" fill="#fff" stroke="#111" stroke-linecap="round" stroke-linejoin="round" stroke-width="1.83"/>
<path d="M492.5,358 H505 Q511.5,364 511,372 Q510.5,379 505,385 H491Z" fill="#fff" stroke="#111" stroke-linecap="round" stroke-linejoin="round" stroke-width="1.95"/>
<path d="M505,362.5 Q508,366 507.4,370" class="k" style="stroke-width:1"/>
<path d="M497.5,361.5 v4 M499.5,361.8 v3" class="kt"/>
<path d="M484.6,334 V352 Q484.6,360.6 493,360.6 H500 Q508,360.6 508,352 V334Z" fill="#fff" stroke="#111" stroke-linecap="round" stroke-linejoin="round" stroke-width="2.07"/>
<path d="M484.8,334.0 q-5.2,-0.7 -4.6,3.2 q-2.9,1.3 -1.2,3.9 q-1.2,2.6 2.0,3.2 q0.6,1.9 3.8,2.6 q1.2,-1.3 0.0,0.0 Z" fill="#fff" stroke="#111" stroke-linecap="round" stroke-linejoin="round" stroke-width="1.5"/><path d="M483.4,337.9 l-2.6,1.0 M483.6,340.5 l-3.2,1.6 M483.9,343.1 l-2.3,1.3" fill="none" stroke="#111" stroke-width=".7"/>
<path d="M507.8,334.0 q5.4,-0.7 4.8,3.5 q3.0,1.4 1.2,4.2 q1.2,2.8 -2.1,3.5 q-0.6,2.1 -3.9,2.8 q-1.2,-1.4 0.0,0.0 Z" fill="#fff" stroke="#111" stroke-linecap="round" stroke-linejoin="round" stroke-width="1.5"/><path d="M509.3,338.2 l2.7,1.1 M509.0,341.0 l3.3,1.7 M508.7,343.8 l2.4,1.4" fill="none" stroke="#111" stroke-width=".7"/>
<g transform="translate(495.4 334.2) rotate(1.0)"><path d="M-13.5,-1 C-13.8,-19.1 13.8,-19.1 13.5,-1 Z" fill="#fff" stroke="#111" stroke-linecap="round" stroke-linejoin="round" stroke-width="1.9"/><path d="M-6.5,-10.0 a1.8,2.7 0 0 0 3.5,0 M-3.0,-10.5 a1.8,2.7 0 0 0 3.5,0 M0.5,-10.5 a1.8,2.7 0 0 0 3.5,0 M4.1,-10.0 a1.8,2.7 0 0 0 3.5,0 " fill="none" stroke="#111" stroke-width="1.1"/><path d="M-7.3,-9.0 Q0,-12.5 8.1,-8.7" fill="none" stroke="#111" stroke-width=".6"/><path d="M5.4,-10.1 q1,3 .5,6 M8.4,-8.4 q1.3,3 1,6" fill="none" stroke="#111" stroke-width=".6"/><path d="M-14.1,-.5 Q0,-7.2 14.1,-.5 Q14.5,1.2 13.3,2.6 Q0,-4.1 -13.3,2.6 Q-14.5,1.2 -14.1,-.5Z" fill="#fff" stroke="#111" stroke-linecap="round" stroke-linejoin="round" stroke-width="1.6"/></g>
<path d="M486.6,341.2 Q489.8,336.6 493,341.2 M499,341.2 Q502.2,336.8 505.4,341.2" class="k" style="stroke-width:1.3"/>
<path d="M494,343 V348.2 Q494,350.4 495.6,350.4 Q497.2,350.4 497.2,348.2 V343" class="k" style="stroke-width:1.2"/>
<path d="M487.2,346.4 Q488,351.6 493.2,351 M497.6,351 Q503.6,351.8 504.8,346.4" class="k" style="stroke-width:1.3"/>
<g transform="rotate(-22.8 480 364.8)">
<rect x="484.6" y="384" width="7" height="8" rx="1.5" fill="#ddd" stroke="#111" stroke-linecap="round" stroke-linejoin="round" stroke-width="1.15"/>
<rect x="471.3" y="343.2" width="17.6" height="44.6" rx="3.4" fill="#fff" stroke="#111" stroke-linecap="round" stroke-linejoin="round" stroke-width="1.95"/>
</g>
<path d="M476.4,376 L494,374.8" stroke="#aaa" stroke-width="1" fill="none"/>
<text x="0" y="0" transform="translate(467.5 349.6) rotate(67.2)" style="font-size:13.6px;fill:#111" textLength="38.5" lengthAdjust="spacingAndGlyphs">3b + 3.5</text>
<ellipse cx="465.8" cy="357.5" rx="1.8" ry="3" transform="rotate(-23 465.8 357.5)" fill="#fff" stroke="#111" stroke-linecap="round" stroke-linejoin="round" stroke-width="1.26"/>
<path d="M509.5,369 L500,368.6 Q497,368.6 497,371.4 Q497,374.4 500,374.6 L509,376Z" fill="#fff" stroke="#111" stroke-linecap="round" stroke-linejoin="round" stroke-width="1.5"/>
<path d="M498,370.4 h2.4 M498,372.6 h2.4" class="kt"/>
<path d="M491.3,390.5 L494.3,401 M493.6,390 L498.5,400.5 M490,392 l-1.5,8" class="k" style="stroke-width:.9"/>
<path d="M545.2,380 V392.5 H550.6 V386 H554.6 V392.5 H559.5 V380Z" fill="#fff" stroke="#111" stroke-linecap="round" stroke-linejoin="round" stroke-width="1.71"/>
<path d="M545,339.5 q-4.5,-1.5 -6,2 q-3.5,1.8 -1.6,5 q-2.6,2.6 0,5 q-.6,3.4 3,3.6 q2.4,1.6 4.6,-.6z" fill="#fff" stroke="#111" stroke-linecap="round" stroke-linejoin="round" stroke-width="1.38"/>
<path d="M568,341.5 q4,-1 5,2.5 q3.4,1.6 1.6,5 q2.4,3 -.3,5.4 q1,3.6 -2.6,4.6 q-.6,3.4 -4,3 q-2.6,1 -3.6,-1.6z" fill="#fff" stroke="#111" stroke-linecap="round" stroke-linejoin="round" stroke-width="1.38"/>
<path d="M547,357 H564 L566.5,381 H544Z" fill="#fff" stroke="#111" stroke-linecap="round" stroke-linejoin="round" stroke-width="1.71"/>
<path d="M544.6,336 V351.5 Q544.6,359.6 553,359.6 H560 Q568,359.6 568,351.5 V338Z" fill="#fff" stroke="#111" stroke-linecap="round" stroke-linejoin="round" stroke-width="2.07"/>
<g transform="translate(557.0 337.6) rotate(11.0)"><path d="M-14.2,-1 C-14.5,-18.2 14.5,-18.2 14.2,-1 Z" fill="#fff" stroke="#111" stroke-linecap="round" stroke-linejoin="round" stroke-width="1.9"/><path d="M-6.8,-9.5 a1.9,2.9 0 0 0 3.7,0 M-3.1,-10.0 a1.9,2.9 0 0 0 3.7,0 M0.6,-10.0 a1.9,2.9 0 0 0 3.7,0 M4.3,-9.5 a1.9,2.9 0 0 0 3.7,0 " fill="none" stroke="#111" stroke-width="1.1"/><path d="M-7.7,-8.6 Q0,-11.9 8.5,-8.3" fill="none" stroke="#111" stroke-width=".6"/><path d="M5.7,-9.7 q1,3 .5,6 M8.8,-8.0 q1.3,3 1,6" fill="none" stroke="#111" stroke-width=".6"/><path d="M-14.8,-.5 Q0,-6.9 14.8,-.5 Q15.2,1.2 14.1,2.6 Q0,-3.9 -14.1,2.6 Q-15.2,1.2 -14.8,-.5Z" fill="#fff" stroke="#111" stroke-linecap="round" stroke-linejoin="round" stroke-width="1.6"/></g>
<circle cx="550.0" cy="345.6" r="3.5" fill="#fff" stroke="#111" stroke-width="1.5"/><circle cx="550.6" cy="346.4" r="1.1" fill="#111"/><circle cx="551.0" cy="346.0" r="0.4" fill="#fff"/>
<path d="M547.6,343.6 q2.4,-1.6 4.6,.4" class="k" style="stroke-width:1"/>
<circle cx="560.7" cy="347.1" r="4.8" fill="#fff" stroke="#111" stroke-width="1.5"/><circle cx="559.2" cy="346.9" r="2.2" fill="#111"/><circle cx="560.0" cy="346.0" r="0.7" fill="#fff"/>
<circle cx="551.8" cy="354" r="1.1" fill="#fff" stroke="#111" stroke-width="1"/>
<path d="M553.6,349.6 q1.4,.8 .6,2" class="k" style="stroke-width:.8"/>
<g transform="rotate(24.8 549 369.3)">
<path d="M531.5,358.8 H565 q3,0 3,2.7 q3,.6 2,3.2 q3,1.8 1,4.4 q2.6,1.8 0,4 q1.6,3.2 -2,3.8 q-.6,2.8 -4,2.4 H531.5 Q528.2,379.3 528.2,376 V362 Q528.2,358.8 531.5,358.8Z" fill="#fff" stroke="#111" stroke-linecap="round" stroke-linejoin="round" stroke-width="2.07"/>
<text x="542" y="374.6" style="font-size:14.5px;fill:#111">3b</text>
</g>
<path d="M530.5,363.3 L554.5,363.6" stroke="#aaa" stroke-width="1" fill="none"/>
<ellipse cx="534.3" cy="375" rx="2.2" ry="3" transform="rotate(-30 534.3 375)" fill="#fff" stroke="#111" stroke-linecap="round" stroke-linejoin="round" stroke-width="1.26"/>
<ellipse cx="568" cy="367.5" rx="2.2" ry="2.8" transform="rotate(20 568 367.5)" fill="#fff" stroke="#111" stroke-linecap="round" stroke-linejoin="round" stroke-width="1.26"/>
</g>
</g>
<g id="art3">
<defs><clipPath id="c3"><rect x="14" y="302" width="228.8" height="320.5"/></clipPath></defs>
<g clip-path="url(#c3)">
<path d="M243,420.5 C228,424 215,440 210.5,462 C208,476 207.6,490 207.6,505 V540" fill="none" stroke="#111" stroke-linecap="round" stroke-linejoin="round" stroke-width="2.3"/>
<path d="M243,430 H234 C227,433 222.5,443 220.2,456" class="kd" style="stroke-dasharray:22 3 5 3;stroke-width:1.3"/>
<path d="M227.2,445 h6.2 l-1,6.4 h-6.2z" class="k" style="stroke-width:1.1"/>
<path d="M243,455.6 H227 Q223.4,455.6 223.4,459 V462.6 Q223.4,466 227,466 H243" class="kd" style="stroke-dasharray:12 2.5;stroke-width:1.3"/>
<path d="M243,479.4 H223 Q218.3,479.4 218.3,484.5 V500.5 Q218.3,505.8 223,505.8 H243" class="kd" style="stroke-dasharray:30 3 6 3;stroke-width:1.3"/>
<path d="M222,556 Q223,565 231,565.5 H243 M238.5,566 V572 H243" fill="none" stroke="#111" stroke-linecap="round" stroke-linejoin="round" stroke-width="2.2"/>
<path d="M229,548 H243 M231,553 H243 M233,557.5 H243" class="kd" style="stroke-dasharray:6 2"/>
<path d="M162.5,575 V548.5 Q162.5,542.5 168.5,542.5 H200" class="k"/>
<path d="M165,600 V557 Q165,551.7 169.2,551.7 Q173.5,551.7 173.5,557 V603.5" class="k"/>
<path d="M162.5,558.3 H192 M162.5,560.7 H192" class="k" style="stroke-width:.9"/>
<path d="M123.5,612.2 L123.5,606.5 L132.5,606.5 L132.5,598.3 L141.5,598.3 L141.5,590.0 L150.5,590.0 L150.5,581.8 L159.5,581.8 L159.5,575.0 L181.0,590.0 L181.0,596.8 L172.0,596.8 L172.0,605.0 L163.0,605.0 L163.0,613.3 L154.0,613.3 L154.0,621.5 L145.0,621.5 L145.0,627.2 Z" fill="#fff"/>
<path d="M123.5,612.2 L123.5,606.5 L132.5,606.5 L132.5,598.3 L141.5,598.3 L141.5,590.0 L150.5,590.0 L150.5,581.8" class="k"/>
<path d="M145.0,627.2 L145.0,621.5 L154.0,621.5 L154.0,613.3 L163.0,613.3 L163.0,605.0 L172.0,605.0 L172.0,596.8" class="k"/>
<path d="M123.5,612.2 L145.0,627.2" class="k"/>
<path d="M123.5,606.5 L145.0,621.5" class="k"/>
<path d="M132.5,606.5 L154.0,621.5" class="k"/>
<path d="M132.5,598.3 L154.0,613.3" class="k"/>
<path d="M141.5,598.3 L163.0,613.3" class="k"/>
<path d="M141.5,590.0 L163.0,605.0" class="k"/>
<path d="M150.5,590.0 L172.0,605.0" class="k"/>
<path d="M150.5,581.8 L172.0,596.8" class="k"/>
<path d="M143,575 H150.5 M143,575 V582 Q144,587 150.5,588.5 M143.5,576 L200,622" class="k"/>
<path d="M116,612.2 H123.5" class="kd" style="stroke-dasharray:3 1.5"/>
<path d="M150,572 H160" class="k"/>
<path d="M117.5,577.3 L123,571.5" class="kd" style="stroke-dasharray:4 2"/>
<path d="M123,571.5 L145.5,547 Q149,544 150.5,549.5 V588.5" class="k"/>
<path d="M122,600.5 L131,591" class="kd" style="stroke-dasharray:6 2"/>
<path d="M131,591 L166.5,553" class="k"/>
<path d="M162,572.5 H177 Q180,572.5 180.5,575 L185.5,576.3 V579.3 L180.5,580 Q180,582 177,582 H162 Q159.2,582 159.2,577.2 Q159.2,572.5 162,572.5Z" fill="#fff" stroke="#111" stroke-linecap="round" stroke-linejoin="round" stroke-width="1.83"/>
<path d="M163.5,573 v8.6 M166,573 v8.6" class="kt"/>
<path d="M179,581.5 L181,589 Q190,591.5 204,590 L207,583Z" fill="#fff" stroke="#111" stroke-linecap="round" stroke-linejoin="round" stroke-width="1.71"/>
<path d="M178.2,579 l2.6,9.6" fill="none" stroke="#111" stroke-linecap="round" stroke-linejoin="round" stroke-width="2.44"/>
<path d="M183,585.5 H204 M183.6,587.6 H203" class="kt"/>
<path d="M194.3,557.8 h3.6 v4 q3.6,2 3.8,6 V580 h-10.8 V567.8 q.2,-4 3.4,-6z" fill="#fff" stroke="#111" stroke-linecap="round" stroke-linejoin="round" stroke-width="1.71"/>
<path d="M206,548 L222,560 Q224,566 221,572 L216.5,586 Q208,590 199.5,586 L203,572 Q203,560 206,548Z" fill="#fff" stroke="#111" stroke-linecap="round" stroke-linejoin="round" stroke-width="1.95"/>
<path d="M201.3,578.6 L217.6,581.6" stroke="#bbb" stroke-width="1.6" fill="none"/>
<path d="M205,566 l-1.6,10 M208.6,564 l-1,6" class="kt" style="stroke-dasharray:2 1"/>
<path d="M222.5,579 L228.5,578.3 L227.5,594.6 L221.5,592Z" fill="#fff" stroke="#111" stroke-linecap="round" stroke-linejoin="round" stroke-width="1.38"/>
<path d="M205,590.5 H218.3 V601.7 H205Z" fill="#fff" stroke="#111" stroke-linecap="round" stroke-linejoin="round" stroke-width="1.59"/>
<path d="M205.6,594 H218 M205.6,597.5 H218" stroke="#333" stroke-width="1.3" fill="none"/>
<g transform="rotate(-17 222 603)"><path d="M210,597 H231 Q234,597 235,599 L240,600.2 V605.8 L235,607 Q234,609 231,609 H210 Q206.5,609 206.5,603 Q206.5,597 210,597Z" fill="#fff" stroke="#111" stroke-linecap="round" stroke-linejoin="round" stroke-width="1.6"/><path d="M212,597.6 v11 M228.6,597.6 v11" class="kt"/></g>
<g transform="rotate(27 220 540)">
<path d="M208.5,530 V553 Q208.5,561 216.5,561 H223.5 Q231.5,561 231.5,553 V530Z" fill="#fff" stroke="#111" stroke-linecap="round" stroke-linejoin="round" stroke-width="2.07"/>
</g>
<path d="M208.6,524.5 q-4.1,-0.5 -3.7,2.2 q-2.3,0.9 -0.9,2.7 q-0.9,1.8 1.6,2.2 q0.5,1.3 3.0,1.8 q0.9,-0.9 0.0,0.0 Z" fill="#fff" stroke="#111" stroke-linecap="round" stroke-linejoin="round" stroke-width="1.5"/><path d="M207.4,527.2 l-2.1,0.7 M207.7,529.0 l-2.5,1.1 M207.9,530.8 l-1.8,0.9" fill="none" stroke="#111" stroke-width=".7"/>
<g transform="rotate(27 233 538)"><path d="M233.0,538.0 q5.0,-0.6 4.4,3.0 q2.8,1.2 1.1,3.6 q1.1,2.4 -1.9,3.0 q-0.6,1.8 -3.6,2.4 q-1.1,-1.2 0.0,0.0 Z" fill="#fff" stroke="#111" stroke-linecap="round" stroke-linejoin="round" stroke-width="1.5"/><path d="M234.4,541.6 l2.5,1.0 M234.1,544.0 l3.0,1.4 M233.8,546.4 l2.2,1.2" fill="none" stroke="#111" stroke-width=".7"/></g>
<g transform="translate(222.6 528.0) rotate(26.0)"><path d="M-15.0,-1 C-15.3,-19.1 15.3,-19.1 15.0,-1 Z" fill="#fff" stroke="#111" stroke-linecap="round" stroke-linejoin="round" stroke-width="1.9"/><path d="M-7.2,-10.0 a2.0,3.0 0 0 0 3.9,0 M-3.3,-10.5 a2.0,3.0 0 0 0 3.9,0 M0.6,-10.5 a2.0,3.0 0 0 0 3.9,0 M4.5,-10.0 a2.0,3.0 0 0 0 3.9,0 " fill="none" stroke="#111" stroke-width="1.1"/><path d="M-8.1,-9.0 Q0,-12.5 9.0,-8.7" fill="none" stroke="#111" stroke-width=".6"/><path d="M6.0,-10.1 q1,3 .5,6 M9.3,-8.4 q1.3,3 1,6" fill="none" stroke="#111" stroke-width=".6"/><path d="M-15.6,-.5 Q0,-7.2 15.6,-.5 Q16.0,1.2 14.8,2.6 Q0,-4.1 -14.8,2.6 Q-16.0,1.2 -15.6,-.5Z" fill="#fff" stroke="#111" stroke-linecap="round" stroke-linejoin="round" stroke-width="1.6"/></g>
<path d="M212.6,533.8 q2.6,-1.4 4,1.2 M221.4,537.8 q3,-1.6 5,1.6" class="k" style="stroke-width:1.1"/>
<path d="M211,538.5 q-1.6,3.6 1.4,4.6 M208.5,543.5 q2,2.6 5,1" class="k" style="stroke-width:1"/>
<path d="M178,528.3 H196 Q200,528.3 203,532.5 L208.6,537.5 L206.6,541.4 L201,541.7 H178 Q174.2,541.7 174.2,535 Q174.2,528.3 178,528.3Z" fill="#fff" stroke="#111" stroke-linecap="round" stroke-linejoin="round" stroke-width="2.07"/>
<path d="M195.5,541 Q196,534.5 201.4,533.5 L207.5,538 L206,540.8 L200.6,541Z" fill="#8e8e8e"/>
<path d="M175,535 q.6,5 3,6 h3.6 l-1,-6.6z" fill="#a6a6a6"/>
<path d="M180.6,529 v12.2" class="kt"/>
<path d="M190.6,541.5 L195.6,538 L199,543.5 L217.5,566 L212,570.6 L194.6,548.5Z" fill="#fff" stroke="#111" stroke-linecap="round" stroke-linejoin="round" stroke-width="1.83"/>
<path d="M188.6,538.6 q1.4,-2.6 4,-1.6 l1.6,-2 l2.4,1 l-.6,2.6 q2.6,1.6 1.6,4.6 l-5,3 q-3.6,-2.6 -4,-7.6z" fill="#fff" stroke="#111" stroke-linecap="round" stroke-linejoin="round" stroke-width="1.59"/>
</g>
</g>
<g id="art4">
<defs><clipPath id="c4"><rect x="243" y="480" width="342.5" height="216"/></clipPath></defs>
<g clip-path="url(#c4)">
<path d="M553,478 C541.5,486 535.2,510 535.2,541 C535.2,574 541,600 555,609.8 H557.6 V615 H560.6 V622 H586" fill="#fff" stroke="#111" stroke-linecap="round" stroke-linejoin="round" stroke-width="2.56"/>
<path d="M565.5,485.6 H554.5 C548,490 544.6,497 542.8,507" class="kd" style="stroke-dasharray:17 3 4 3;stroke-width:1.2"/>
<path d="M549,499 h6.4 l-1,6 h-6.4z" class="k" style="stroke-width:1"/>
<path d="M546.4,509 H565.5 V518.3 H546.4Z" class="kd" style="stroke-dasharray:7 2.5;stroke-width:1.3"/>
<path d="M586,534.4 H555 Q549.4,534.4 549.4,540 V554.5 Q549.4,560 555,560 H586" class="kd" style="stroke-dasharray:16 3 4 3;stroke-width:1.3"/>
<text x="552.4" y="555.6" style="font-size:20.5px;fill:#c4c4c4">CO</text>
<path d="M548.4,595 H564 L566,602 H552Z" class="kd" style="stroke-dasharray:7 2.5;stroke-width:1.3"/>
<path d="M562.2,622.5 H569.2 Q569.2,626.8 565.7,626.8 Q562.2,626.8 562.2,622.5Z" fill="#ddd" stroke="#111" stroke-linecap="round" stroke-linejoin="round" stroke-width="1.26"/>
<path d="M566,627.5 V632.5" class="k" style="stroke-width:.9"/>
<path d="M501.6,600.5 V608.6 H527.2 V590" class="kd" style="stroke-dasharray:12 2.5;stroke-width:1.2"/>
<path d="M523.8,611.5 V615 H550" class="kd" style="stroke-dasharray:12 2.5;stroke-width:1.2"/>
<path d="M508,609.8 H520.5 V612 H508Z M512.2,612 H516.3 V625 H512.2Z M504,625 H525.6 V627.8 H504Z" fill="#fff" stroke="#111" stroke-linecap="round" stroke-linejoin="round" stroke-width="1.38"/>
<path d="M511,627.8 H518.6 L517.6,631.6 H512Z" fill="#ddd" stroke="#111" stroke-linecap="round" stroke-linejoin="round" stroke-width="1.15"/>
</g>
</g>
<g id="frames">
<path class="ln" d="M242.8,11.8 H585.7 V773.3 H572"/>
<path class="ln" d="M242.8,11 V623.3"/>
<path class="ln" d="M242.8,233.3 H585.7"/>
<path class="ln" d="M242.8,479.3 H585.7"/>
<path class="ln" d="M242.8,301.3 H14 V771.5 H30"/>
<path class="ln" d="M14,622.5 H242.8"/>
</g>
<g id="conveyor">
<path d="M290,676.4 H585 V689.4 H272.5 Q277,679.5 290,676.4Z" fill="#bfc1c3"/>
<path d="M272.5,689.4 H585 V699 H573 V695 H271 Q270.6,692 272.5,689.4Z" fill="#7f7f7f"/>
<rect x="583.3" y="656" width="2" height="21" fill="#d5d5d5"/>
<g>
<path d="M302.4,633.6 L302.4,643.6 C302.4,652.6 298,652.6 298,657.1 V685.1 Q298,687.6 300,687.6 H310 Q312,687.6 312,685.1 V657.1 C312,652.6 307.6,652.6 307.6,643.6 L307.6,633.6Z" fill="#efefef" stroke="#111" stroke-width="1.25"/>
<path d="M303.8,644.6 C303.8,653.6 300.1,653.6 300.1,659.6 V683.6" class="kt" style="stroke:#555;stroke-width:.5"/>
<path d="M298.7,675.1 H311.3" style="stroke:#999;stroke-width:.5;fill:none"/>
<rect x="301.5" y="631.4" width="7" height="3.6" rx="1" fill="#fff" stroke="#111" stroke-width="1"/>
<ellipse cx="303.8" cy="666.1" rx="3.3" ry="2.8" fill="#8a8a8a" stroke="#444" stroke-width=".5"/>
<ellipse cx="307.2" cy="665.8" rx="2.4" ry="2.2" fill="#aaa" stroke="#444" stroke-width=".5"/>
<path d="M301.0,661.3 q2,-2.5 4,-1.2 q2,-2 4,-.6" style="stroke:#666;stroke-width:.8;fill:none"/>
<circle cx="306.4" cy="674.1" r=".45" fill="#777"/>
<circle cx="305.8" cy="655.9" r=".45" fill="#777"/>
<circle cx="306.9" cy="658.7" r=".45" fill="#777"/>
<circle cx="306.1" cy="649.4" r=".45" fill="#777"/>
<circle cx="304.2" cy="650.4" r=".45" fill="#777"/>
<circle cx="301.9" cy="679.8" r=".45" fill="#777"/>
<circle cx="304.6" cy="651.0" r=".45" fill="#777"/>
<circle cx="304.1" cy="651.9" r=".45" fill="#777"/>
<circle cx="306.6" cy="659.2" r=".45" fill="#777"/>
<circle cx="301.1" cy="658.8" r=".45" fill="#777"/>
<circle cx="305.4" cy="680.6" r=".45" fill="#777"/>
</g>
<g>
<path d="M327.59999999999997,633.6 L327.59999999999997,643.6 C327.59999999999997,652.6 323.2,652.6 323.2,657.1 V685.1 Q323.2,687.6 325.2,687.6 H335.2 Q337.2,687.6 337.2,685.1 V657.1 C337.2,652.6 332.8,652.6 332.8,643.6 L332.8,633.6Z" fill="#efefef" stroke="#111" stroke-width="1.25"/>
<path d="M329.0,644.6 C329.0,653.6 325.3,653.6 325.3,659.6 V683.6" class="kt" style="stroke:#555;stroke-width:.5"/>
<path d="M323.9,675.1 H336.5" style="stroke:#999;stroke-width:.5;fill:none"/>
<rect x="326.7" y="631.4" width="7" height="3.6" rx="1" fill="#fff" stroke="#111" stroke-width="1"/>
<ellipse cx="329.0" cy="666.1" rx="3.3" ry="2.8" fill="#8a8a8a" stroke="#444" stroke-width=".5"/>
<ellipse cx="332.4" cy="665.8" rx="2.4" ry="2.2" fill="#aaa" stroke="#444" stroke-width=".5"/>
<path d="M326.2,661.3 q2,-2.5 4,-1.2 q2,-2 4,-.6" style="stroke:#666;stroke-width:.8;fill:none"/>
<circle cx="331.1" cy="651.9" r=".45" fill="#777"/>
<circle cx="333.4" cy="680.1" r=".45" fill="#777"/>
<circle cx="329.3" cy="654.7" r=".45" fill="#777"/>
<circle cx="333.6" cy="683.6" r=".45" fill="#777"/>
<circle cx="331.0" cy="682.6" r=".45" fill="#777"/>
<circle cx="331.6" cy="650.8" r=".45" fill="#777"/>
<circle cx="332.6" cy="676.2" r=".45" fill="#777"/>
<circle cx="330.5" cy="652.8" r=".45" fill="#777"/>
<circle cx="330.7" cy="650.1" r=".45" fill="#777"/>
<circle cx="334.1" cy="672.0" r=".45" fill="#777"/>
<circle cx="328.3" cy="655.9" r=".45" fill="#777"/>
</g>
<g>
<path d="M353.59999999999997,633.6 L353.59999999999997,643.6 C353.59999999999997,652.6 349.2,652.6 349.2,657.1 V685.1 Q349.2,687.6 351.2,687.6 H361.2 Q363.2,687.6 363.2,685.1 V657.1 C363.2,652.6 358.8,652.6 358.8,643.6 L358.8,633.6Z" fill="#efefef" stroke="#111" stroke-width="1.25"/>
<path d="M355.0,644.6 C355.0,653.6 351.3,653.6 351.3,659.6 V683.6" class="kt" style="stroke:#555;stroke-width:.5"/>
<path d="M349.9,675.1 H362.5" style="stroke:#999;stroke-width:.5;fill:none"/>
<rect x="352.7" y="631.4" width="7" height="3.6" rx="1" fill="#fff" stroke="#111" stroke-width="1"/>
<ellipse cx="355.0" cy="666.1" rx="3.3" ry="2.8" fill="#8a8a8a" stroke="#444" stroke-width=".5"/>
<ellipse cx="358.4" cy="665.8" rx="2.4" ry="2.2" fill="#aaa" stroke="#444" stroke-width=".5"/>
<path d="M352.2,661.3 q2,-2.5 4,-1.2 q2,-2 4,-.6" style="stroke:#666;stroke-width:.8;fill:none"/>
<circle cx="353.5" cy="672.1" r=".45" fill="#777"/>
<circle cx="355.6" cy="659.3" r=".45" fill="#777"/>
<circle cx="355.5" cy="671.5" r=".45" fill="#777"/>
<circle cx="355.4" cy="673.6" r=".45" fill="#777"/>
<circle cx="357.4" cy="647.8" r=".45" fill="#777"/>
<circle cx="356.4" cy="654.1" r=".45" fill="#777"/>
<circle cx="351.7" cy="678.6" r=".45" fill="#777"/>
<circle cx="356.3" cy="654.3" r=".45" fill="#777"/>
<circle cx="356.7" cy="657.5" r=".45" fill="#777"/>
<circle cx="356.3" cy="683.8" r=".45" fill="#777"/>
<circle cx="360.7" cy="670.9" r=".45" fill="#777"/>
</g>
<g>
<path d="M379.2,633.6 L379.2,643.6 C379.2,652.6 374.8,652.6 374.8,657.1 V685.1 Q374.8,687.6 376.8,687.6 H386.8 Q388.8,687.6 388.8,685.1 V657.1 C388.8,652.6 384.40000000000003,652.6 384.40000000000003,643.6 L384.40000000000003,633.6Z" fill="#efefef" stroke="#111" stroke-width="1.25"/>
<path d="M380.6,644.6 C380.6,653.6 376.90000000000003,653.6 376.90000000000003,659.6 V683.6" class="kt" style="stroke:#555;stroke-width:.5"/>
<path d="M375.5,675.1 H388.1" style="stroke:#999;stroke-width:.5;fill:none"/>
<rect x="378.3" y="631.4" width="7" height="3.6" rx="1" fill="#fff" stroke="#111" stroke-width="1"/>
<ellipse cx="380.6" cy="666.1" rx="3.3" ry="2.8" fill="#8a8a8a" stroke="#444" stroke-width=".5"/>
<ellipse cx="384.0" cy="665.8" rx="2.4" ry="2.2" fill="#aaa" stroke="#444" stroke-width=".5"/>
<path d="M377.8,661.3 q2,-2.5 4,-1.2 q2,-2 4,-.6" style="stroke:#666;stroke-width:.8;fill:none"/>
<circle cx="379.9" cy="648.6" r=".45" fill="#777"/>
<circle cx="385.6" cy="674.1" r=".45" fill="#777"/>
<circle cx="381.0" cy="649.4" r=".45" fill="#777"/>
<circle cx="381.9" cy="649.6" r=".45" fill="#777"/>
<circle cx="385.6" cy="683.9" r=".45" fill="#777"/>
<circle cx="382.9" cy="658.4" r=".45" fill="#777"/>
<circle cx="383.4" cy="655.2" r=".45" fill="#777"/>
<circle cx="381.3" cy="679.8" r=".45" fill="#777"/>
<circle cx="383.1" cy="652.2" r=".45" fill="#777"/>
<circle cx="382.3" cy="677.5" r=".45" fill="#777"/>
<circle cx="380.9" cy="682.7" r=".45" fill="#777"/>
</g>
<g>
<path d="M405.59999999999997,633.6 L405.59999999999997,643.6 C405.59999999999997,652.6 401.2,652.6 401.2,657.1 V685.1 Q401.2,687.6 403.2,687.6 H413.2 Q415.2,687.6 415.2,685.1 V657.1 C415.2,652.6 410.8,652.6 410.8,643.6 L410.8,633.6Z" fill="#efefef" stroke="#111" stroke-width="1.25"/>
<path d="M407.0,644.6 C407.0,653.6 403.3,653.6 403.3,659.6 V683.6" class="kt" style="stroke:#555;stroke-width:.5"/>
<path d="M401.9,675.1 H414.5" style="stroke:#999;stroke-width:.5;fill:none"/>
<rect x="404.7" y="631.4" width="7" height="3.6" rx="1" fill="#fff" stroke="#111" stroke-width="1"/>
<ellipse cx="407.0" cy="666.1" rx="3.3" ry="2.8" fill="#8a8a8a" stroke="#444" stroke-width=".5"/>
<ellipse cx="410.4" cy="665.8" rx="2.4" ry="2.2" fill="#aaa" stroke="#444" stroke-width=".5"/>
<path d="M404.2,661.3 q2,-2.5 4,-1.2 q2,-2 4,-.6" style="stroke:#666;stroke-width:.8;fill:none"/>
<circle cx="412.5" cy="675.9" r=".45" fill="#777"/>
<circle cx="406.1" cy="681.8" r=".45" fill="#777"/>
<circle cx="409.6" cy="654.9" r=".45" fill="#777"/>
<circle cx="406.1" cy="658.7" r=".45" fill="#777"/>
<circle cx="406.5" cy="650.7" r=".45" fill="#777"/>
<circle cx="405.3" cy="680.3" r=".45" fill="#777"/>
<circle cx="404.2" cy="676.4" r=".45" fill="#777"/>
<circle cx="409.2" cy="673.2" r=".45" fill="#777"/>
<circle cx="411.2" cy="683.8" r=".45" fill="#777"/>
<circle cx="403.9" cy="658.7" r=".45" fill="#777"/>
<circle cx="404.3" cy="684.3" r=".45" fill="#777"/>
<circle cx="407.4" cy="655.7" r=".45" fill="#777"/>
</g>
<g>
<path d="M432.2,633.6 L432.2,643.6 C432.2,652.6 427.8,652.6 427.8,657.1 V685.1 Q427.8,687.6 429.8,687.6 H439.8 Q441.8,687.6 441.8,685.1 V657.1 C441.8,652.6 437.40000000000003,652.6 437.40000000000003,643.6 L437.40000000000003,633.6Z" fill="#efefef" stroke="#111" stroke-width="1.25"/>
<path d="M433.6,644.6 C433.6,653.6 429.90000000000003,653.6 429.90000000000003,659.6 V683.6" class="kt" style="stroke:#555;stroke-width:.5"/>
<path d="M428.5,675.1 H441.1" style="stroke:#999;stroke-width:.5;fill:none"/>
<rect x="431.3" y="631.4" width="7" height="3.6" rx="1" fill="#fff" stroke="#111" stroke-width="1"/>
<ellipse cx="433.6" cy="666.1" rx="3.3" ry="2.8" fill="#8a8a8a" stroke="#444" stroke-width=".5"/>
<ellipse cx="437.0" cy="665.8" rx="2.4" ry="2.2" fill="#aaa" stroke="#444" stroke-width=".5"/>
<path d="M430.8,661.3 q2,-2.5 4,-1.2 q2,-2 4,-.6" style="stroke:#666;stroke-width:.8;fill:none"/>
<circle cx="432.9" cy="654.5" r=".45" fill="#777"/>
<circle cx="437.6" cy="683.4" r=".45" fill="#777"/>
<circle cx="431.0" cy="659.0" r=".45" fill="#777"/>
<circle cx="434.7" cy="659.3" r=".45" fill="#777"/>
<circle cx="437.8" cy="682.9" r=".45" fill="#777"/>
<circle cx="435.4" cy="675.3" r=".45" fill="#777"/>
<circle cx="430.6" cy="660.3" r=".45" fill="#777"/>
<circle cx="431.1" cy="673.9" r=".45" fill="#777"/>
<circle cx="436.1" cy="651.9" r=".45" fill="#777"/>
<circle cx="434.9" cy="648.4" r=".45" fill="#777"/>
<circle cx="435.0" cy="654.4" r=".45" fill="#777"/>
</g>
<g>
<path d="M459.2,633.6 L459.2,643.6 C459.2,652.6 454.8,652.6 454.8,657.1 V685.1 Q454.8,687.6 456.8,687.6 H466.8 Q468.8,687.6 468.8,685.1 V657.1 C468.8,652.6 464.40000000000003,652.6 464.40000000000003,643.6 L464.40000000000003,633.6Z" fill="#efefef" stroke="#111" stroke-width="1.25"/>
<path d="M460.6,644.6 C460.6,653.6 456.90000000000003,653.6 456.90000000000003,659.6 V683.6" class="kt" style="stroke:#555;stroke-width:.5"/>
<path d="M455.5,675.1 H468.1" style="stroke:#999;stroke-width:.5;fill:none"/>
<rect x="458.3" y="631.4" width="7" height="3.6" rx="1" fill="#fff" stroke="#111" stroke-width="1"/>
<ellipse cx="460.6" cy="666.1" rx="3.3" ry="2.8" fill="#8a8a8a" stroke="#444" stroke-width=".5"/>
<ellipse cx="464.0" cy="665.8" rx="2.4" ry="2.2" fill="#aaa" stroke="#444" stroke-width=".5"/>
<path d="M457.8,661.3 q2,-2.5 4,-1.2 q2,-2 4,-.6" style="stroke:#666;stroke-width:.8;fill:none"/>
<circle cx="462.3" cy="656.5" r=".45" fill="#777"/>
<circle cx="462.6" cy="649.6" r=".45" fill="#777"/>
<circle cx="463.0" cy="681.3" r=".45" fill="#777"/>
<circle cx="464.7" cy="679.1" r=".45" fill="#777"/>
<circle cx="460.7" cy="683.0" r=".45" fill="#777"/>
<circle cx="464.2" cy="677.7" r=".45" fill="#777"/>
<circle cx="457.9" cy="674.8" r=".45" fill="#777"/>
<circle cx="460.8" cy="654.2" r=".45" fill="#777"/>
<circle cx="465.8" cy="659.1" r=".45" fill="#777"/>
<circle cx="460.5" cy="659.0" r=".45" fill="#777"/>
<circle cx="461.8" cy="653.7" r=".45" fill="#777"/>
<circle cx="457.5" cy="677.7" r=".45" fill="#777"/>
<circle cx="458.1" cy="681.3" r=".45" fill="#777"/>
</g>
<g>
<path d="M486.09999999999997,633.6 L486.09999999999997,643.6 C486.09999999999997,652.6 481.7,652.6 481.7,657.1 V685.1 Q481.7,687.6 483.7,687.6 H493.7 Q495.7,687.6 495.7,685.1 V657.1 C495.7,652.6 491.3,652.6 491.3,643.6 L491.3,633.6Z" fill="#efefef" stroke="#111" stroke-width="1.25"/>
<path d="M487.5,644.6 C487.5,653.6 483.8,653.6 483.8,659.6 V683.6" class="kt" style="stroke:#555;stroke-width:.5"/>
<path d="M482.4,675.1 H495.0" style="stroke:#999;stroke-width:.5;fill:none"/>
<rect x="485.2" y="631.4" width="7" height="3.6" rx="1" fill="#fff" stroke="#111" stroke-width="1"/>
<ellipse cx="487.5" cy="666.1" rx="3.3" ry="2.8" fill="#8a8a8a" stroke="#444" stroke-width=".5"/>
<ellipse cx="490.9" cy="665.8" rx="2.4" ry="2.2" fill="#aaa" stroke="#444" stroke-width=".5"/>
<path d="M484.7,661.3 q2,-2.5 4,-1.2 q2,-2 4,-.6" style="stroke:#666;stroke-width:.8;fill:none"/>
<circle cx="485.2" cy="657.8" r=".45" fill="#777"/>
<circle cx="489.2" cy="674.1" r=".45" fill="#777"/>
<circle cx="487.7" cy="671.3" r=".45" fill="#777"/>
<circle cx="489.7" cy="654.7" r=".45" fill="#777"/>
<circle cx="488.5" cy="673.5" r=".45" fill="#777"/>
<circle cx="490.3" cy="679.8" r=".45" fill="#777"/>
<circle cx="490.5" cy="671.2" r=".45" fill="#777"/>
<circle cx="491.4" cy="679.8" r=".45" fill="#777"/>
<circle cx="487.9" cy="653.6" r=".45" fill="#777"/>
<circle cx="485.0" cy="682.1" r=".45" fill="#777"/>
<circle cx="489.9" cy="656.9" r=".45" fill="#777"/>
<circle cx="487.7" cy="677.3" r=".45" fill="#777"/>
<circle cx="491.0" cy="674.7" r=".45" fill="#777"/>
</g>
<g>
<path d="M512.4,633.6 L512.4,643.6 C512.4,652.6 508,652.6 508,657.1 V685.1 Q508,687.6 510,687.6 H520 Q522,687.6 522,685.1 V657.1 C522,652.6 517.6,652.6 517.6,643.6 L517.6,633.6Z" fill="#efefef" stroke="#111" stroke-width="1.25"/>
<path d="M513.8,644.6 C513.8,653.6 510.1,653.6 510.1,659.6 V683.6" class="kt" style="stroke:#555;stroke-width:.5"/>
<path d="M508.7,675.1 H521.3" style="stroke:#999;stroke-width:.5;fill:none"/>
<rect x="511.5" y="631.4" width="7" height="3.6" rx="1" fill="#fff" stroke="#111" stroke-width="1"/>
<ellipse cx="513.8" cy="666.1" rx="3.3" ry="2.8" fill="#8a8a8a" stroke="#444" stroke-width=".5"/>
<ellipse cx="517.2" cy="665.8" rx="2.4" ry="2.2" fill="#aaa" stroke="#444" stroke-width=".5"/>
<path d="M511.0,661.3 q2,-2.5 4,-1.2 q2,-2 4,-.6" style="stroke:#666;stroke-width:.8;fill:none"/>
<circle cx="517.1" cy="649.2" r=".45" fill="#777"/>
<circle cx="515.1" cy="650.1" r=".45" fill="#777"/>
<circle cx="516.8" cy="655.2" r=".45" fill="#777"/>
<circle cx="510.9" cy="678.4" r=".45" fill="#777"/>
<circle cx="512.7" cy="672.4" r=".45" fill="#777"/>
<circle cx="514.9" cy="659.5" r=".45" fill="#777"/>
<circle cx="514.9" cy="648.1" r=".45" fill="#777"/>
<circle cx="517.4" cy="654.1" r=".45" fill="#777"/>
<circle cx="515.1" cy="659.8" r=".45" fill="#777"/>
<circle cx="519.8" cy="674.4" r=".45" fill="#777"/>
<circle cx="518.1" cy="684.2" r=".45" fill="#777"/>
<circle cx="510.6" cy="658.6" r=".45" fill="#777"/>
<circle cx="512.2" cy="680.3" r=".45" fill="#777"/>
<circle cx="517.0" cy="652.0" r=".45" fill="#777"/>
</g>
<g>
<path d="M538.1999999999999,633.6 L538.1999999999999,643.6 C538.1999999999999,652.6 533.8,652.6 533.8,657.1 V685.1 Q533.8,687.6 535.8,687.6 H545.8 Q547.8,687.6 547.8,685.1 V657.1 C547.8,652.6 543.4,652.6 543.4,643.6 L543.4,633.6Z" fill="#efefef" stroke="#111" stroke-width="1.25"/>
<path d="M539.5999999999999,644.6 C539.5999999999999,653.6 535.9,653.6 535.9,659.6 V683.6" class="kt" style="stroke:#555;stroke-width:.5"/>
<path d="M534.5,675.1 H547.0999999999999" style="stroke:#999;stroke-width:.5;fill:none"/>
<path d="M537.6,633.6 h6.4" class="k"/>
<ellipse cx="539.6" cy="666.1" rx="3.3" ry="2.8" fill="#8a8a8a" stroke="#444" stroke-width=".5"/>
<ellipse cx="543.0" cy="665.8" rx="2.4" ry="2.2" fill="#aaa" stroke="#444" stroke-width=".5"/>
<path d="M536.8,661.3 q2,-2.5 4,-1.2 q2,-2 4,-.6" style="stroke:#666;stroke-width:.8;fill:none"/>
<circle cx="542.0" cy="659.9" r=".45" fill="#777"/>
<circle cx="536.6" cy="672.8" r=".45" fill="#777"/>
<circle cx="539.1" cy="650.7" r=".45" fill="#777"/>
<circle cx="541.0" cy="650.3" r=".45" fill="#777"/>
<circle cx="541.7" cy="675.4" r=".45" fill="#777"/>
<circle cx="541.4" cy="653.8" r=".45" fill="#777"/>
<circle cx="542.7" cy="674.9" r=".45" fill="#777"/>
<circle cx="536.8" cy="672.9" r=".45" fill="#777"/>
<circle cx="540.5" cy="680.4" r=".45" fill="#777"/>
<circle cx="538.7" cy="681.5" r=".45" fill="#777"/>
<circle cx="538.6" cy="671.4" r=".45" fill="#777"/>
<circle cx="541.0" cy="656.4" r=".45" fill="#777"/>
<circle cx="539.8" cy="655.9" r=".45" fill="#777"/>
<circle cx="543.3" cy="671.2" r=".45" fill="#777"/>
</g>
<g>
<path d="M563.4,633.6 L563.4,643.6 C563.4,652.6 559,652.6 559,657.1 V685.1 Q559,687.6 561,687.6 H571 Q573,687.6 573,685.1 V657.1 C573,652.6 568.6,652.6 568.6,643.6 L568.6,633.6Z" fill="#efefef" stroke="#111" stroke-width="1.25"/>
<path d="M564.8,644.6 C564.8,653.6 561.1,653.6 561.1,659.6 V683.6" class="kt" style="stroke:#555;stroke-width:.5"/>
<path d="M559.7,675.1 H572.3" style="stroke:#999;stroke-width:.5;fill:none"/>
<path d="M562.8,633.6 h6.4" class="k"/>
<ellipse cx="564.8" cy="666.1" rx="3.3" ry="2.8" fill="#8a8a8a" stroke="#444" stroke-width=".5"/>
<ellipse cx="568.2" cy="665.8" rx="2.4" ry="2.2" fill="#aaa" stroke="#444" stroke-width=".5"/>
<path d="M562.0,661.3 q2,-2.5 4,-1.2 q2,-2 4,-.6" style="stroke:#666;stroke-width:.8;fill:none"/>
<circle cx="570.1" cy="673.2" r=".45" fill="#777"/>
<circle cx="565.9" cy="650.9" r=".45" fill="#777"/>
<circle cx="568.6" cy="672.0" r=".45" fill="#777"/>
<circle cx="562.4" cy="677.3" r=".45" fill="#777"/>
<circle cx="567.6" cy="673.8" r=".45" fill="#777"/>
<circle cx="564.7" cy="654.3" r=".45" fill="#777"/>
<circle cx="569.0" cy="672.8" r=".45" fill="#777"/>
<circle cx="561.9" cy="677.5" r=".45" fill="#777"/>
<circle cx="564.4" cy="652.9" r=".45" fill="#777"/>
<circle cx="565.8" cy="652.1" r=".45" fill="#777"/>
<circle cx="568.1" cy="657.2" r=".45" fill="#777"/>
<circle cx="570.3" cy="659.5" r=".45" fill="#777"/>
</g>
<g transform="rotate(-17 278.3 687.6)">
<path d="M275.7,634.2 L275.7,644.2 C275.7,653.2 271.3,653.2 271.3,657.7 V685.7 Q271.3,688.2 273.3,688.2 H283.3 Q285.3,688.2 285.3,685.7 V657.7 C285.3,653.2 280.90000000000003,653.2 280.90000000000003,644.2 L280.90000000000003,634.2Z" fill="#efefef" stroke="#111" stroke-width="1.25"/>
<path d="M277.1,645.2 C277.1,654.2 273.40000000000003,654.2 273.40000000000003,660.2 V684.2" class="kt" style="stroke:#555;stroke-width:.5"/>
<path d="M272.0,675.7 H284.6" style="stroke:#999;stroke-width:.5;fill:none"/>
<rect x="274.8" y="632.0" width="7" height="3.6" rx="1" fill="#fff" stroke="#111" stroke-width="1"/>
<ellipse cx="277.1" cy="666.7" rx="3.3" ry="2.8" fill="#8a8a8a" stroke="#444" stroke-width=".5"/>
<ellipse cx="280.5" cy="666.4" rx="2.4" ry="2.2" fill="#aaa" stroke="#444" stroke-width=".5"/>
<path d="M274.3,661.9 q2,-2.5 4,-1.2 q2,-2 4,-.6" style="stroke:#666;stroke-width:.8;fill:none"/>
<circle cx="280.1" cy="671.9" r=".45" fill="#777"/>
<circle cx="278.1" cy="676.1" r=".45" fill="#777"/>
<circle cx="277.1" cy="672.2" r=".45" fill="#777"/>
<circle cx="281.7" cy="676.1" r=".45" fill="#777"/>
<circle cx="281.6" cy="673.3" r=".45" fill="#777"/>
<circle cx="277.1" cy="653.6" r=".45" fill="#777"/>
<circle cx="278.3" cy="652.5" r=".45" fill="#777"/>
<circle cx="278.2" cy="677.3" r=".45" fill="#777"/>
<circle cx="279.2" cy="649.1" r=".45" fill="#777"/>
<circle cx="279.2" cy="671.5" r=".45" fill="#777"/>
</g>
<path d="M270.5,632.5 l6,-2.4 M276.5,636.5 l7.5,-2.6 M279,642.3 l5,-1.6" style="stroke:#999;stroke-width:.8;fill:none"/><path d="M223,676 Q214,676 210.5,667 L214.6,664.6 Q218,671 225,671Z" fill="#fff" stroke="#111" stroke-linecap="round" stroke-linejoin="round" stroke-width="1.83"/>
<path d="M206,666 Q203.6,661 205.4,657.6 L208.4,656.6 L208.6,652.6 Q210,651.4 211.4,652.6 L212,657.6 Q214,661 213,666 Q209.6,668.4 206,666Z" fill="#fff" stroke="#111" stroke-linecap="round" stroke-linejoin="round" stroke-width="1.71"/>
<path d="M205.2,660 h2.6 M205.6,662.6 h2.6" class="kt"/>
<path d="M223.5,672 H249 Q251.6,682 250.6,694.6 H223.5Z" fill="#fff" stroke="#111" stroke-linecap="round" stroke-linejoin="round" stroke-width="1.95"/>
<path d="M225.6,680 h5 v2.4 h-5z M236,676 v18 M233.6,675.6 l2.4,3 l2.4,-3" class="kt"/>
<circle cx="238" cy="683" r=".5" fill="#111"/><circle cx="238" cy="688" r=".5" fill="#111"/>
<path d="M247,677 Q253.6,681 251.6,688 Q250,692 244.6,692.4 Q241.6,691 241.6,688.6 L244,685.6 L246,687.4 Q247.6,684 245.6,680Z" fill="#fff" stroke="#111" stroke-linecap="round" stroke-linejoin="round" stroke-width="1.71"/>
<path d="M243.6,688 l1.6,-2.6 l1.2,1.8z" fill="#111"/>
<g transform="rotate(5 236.5 660)">
<path d="M224,645 V666 Q224,674.6 232.5,674.6 H241 Q249.6,674.6 249.6,666 V645Z" fill="#fff" stroke="#111" stroke-linecap="round" stroke-linejoin="round" stroke-width="2.2"/>
</g>
<g transform="rotate(6 224 645)"><path d="M224.4,645.0 q-5.2,-0.7 -4.6,3.4 q-2.9,1.4 -1.2,4.0 q-1.2,2.7 2.0,3.4 q0.6,2.0 3.8,2.7 q1.2,-1.4 0.0,0.0 Z" fill="#fff" stroke="#111" stroke-linecap="round" stroke-linejoin="round" stroke-width="1.5"/><path d="M223.0,649.0 l-2.6,1.1 M223.2,651.8 l-3.2,1.6 M223.5,654.5 l-2.3,1.4" fill="none" stroke="#111" stroke-width=".7"/></g>
<g transform="rotate(8 250 648)"><path d="M250.4,648.6 q5.4,-0.7 4.8,3.2 q3.0,1.3 1.2,3.9 q1.2,2.6 -2.1,3.2 q-0.6,1.9 -3.9,2.6 q-1.2,-1.3 0.0,0.0 Z" fill="#fff" stroke="#111" stroke-linecap="round" stroke-linejoin="round" stroke-width="1.5"/><path d="M251.9,652.5 l2.7,1.0 M251.6,655.1 l3.3,1.6 M251.3,657.7 l2.4,1.3" fill="none" stroke="#111" stroke-width=".7"/></g>
<g transform="translate(238.4 645.4) rotate(11.0)"><path d="M-14.8,-1 C-15.0,-19.1 15.0,-19.1 14.8,-1 Z" fill="#fff" stroke="#111" stroke-linecap="round" stroke-linejoin="round" stroke-width="1.9"/><path d="M-7.1,-10.0 a1.9,2.9 0 0 0 3.8,0 M-3.2,-10.5 a1.9,2.9 0 0 0 3.8,0 M0.6,-10.5 a1.9,2.9 0 0 0 3.8,0 M4.4,-10.0 a1.9,2.9 0 0 0 3.8,0 " fill="none" stroke="#111" stroke-width="1.1"/><path d="M-8.0,-9.0 Q0,-12.5 8.8,-8.7" fill="none" stroke="#111" stroke-width=".6"/><path d="M5.9,-10.1 q1,3 .5,6 M9.1,-8.4 q1.3,3 1,6" fill="none" stroke="#111" stroke-width=".6"/><path d="M-15.3,-.5 Q0,-7.2 15.3,-.5 Q15.8,1.2 14.6,2.6 Q0,-4.1 -14.6,2.6 Q-15.8,1.2 -15.3,-.5Z" fill="#fff" stroke="#111" stroke-linecap="round" stroke-linejoin="round" stroke-width="1.6"/></g>
<circle cx="231.4" cy="651.7" r="4.3" fill="#fff" stroke="#111" stroke-width="1.5"/><circle cx="232.8" cy="652.2" r="1.9" fill="#111"/><circle cx="233.5" cy="651.4" r="0.6" fill="#fff"/>
<circle cx="242.5" cy="653.3" r="5.4" fill="#fff" stroke="#111" stroke-width="1.5"/><circle cx="244.2" cy="653.6" r="2.4" fill="#111"/><circle cx="245.0" cy="652.6" r="0.8" fill="#fff"/>
<path d="M236.8,655.6 l-.6,5 h1.8" class="k" style="stroke-width:.9"/>
<path d="M226,659.4 Q234,664.6 243.4,662 Q243,670 235,670 Q227.6,669 226,659.4Z" fill="#4d4d4d" stroke="#111" stroke-linecap="round" stroke-linejoin="round" stroke-width="1.59"/>
<path d="M227.4,660.8 Q234.6,665 242.4,663 L242,665 Q234.6,667 228,662.8Z" fill="#fff"/>
<path d="M230.6,668 Q235,665.8 240,668.4 Q235,670 230.6,668Z" fill="#9a9a9a"/>
</g>
<g id="boxes">
<circle cx="256.2" cy="24.5" r="9.2" fill="#000"/><text class="num" x="256.8" y="29.4">1.</text><circle cx="256.2" cy="255.7" r="9.2" fill="#000"/><text class="num" x="256.8" y="260.6">2.</text><circle cx="30.2" cy="316.9" r="9.2" fill="#000"/><text class="num" x="30.8" y="321.8">3.</text><circle cx="256.6" cy="495.2" r="9.2" fill="#000"/><text class="num" x="257.2" y="500.1">4.</text>
<rect x="322.3" y="67.1" width="25.0" height="25.0" fill="#fff" stroke="#1a1a1a" stroke-width="1.1"/><rect x="435.3" y="67.1" width="25.0" height="25.0" fill="#fff" stroke="#1a1a1a" stroke-width="1.1"/><rect x="322.8" y="310.0" width="25.0" height="25.0" fill="#fff" stroke="#1a1a1a" stroke-width="1.1"/><rect x="432.5" y="310.0" width="25.0" height="25.0" fill="#fff" stroke="#1a1a1a" stroke-width="1.1"/><rect x="94.1" y="366.7" width="25.0" height="25.0" fill="#fff" stroke="#1a1a1a" stroke-width="1.1"/><rect x="205.5" y="366.7" width="25.0" height="25.0" fill="#fff" stroke="#1a1a1a" stroke-width="1.1"/>
<text class="gv" x="335" y="86.7">s</text>
<text class="gv" x="447.8" y="84.2">y</text>
</g>
<g id="table">
<rect x="30" y="695" width="542.5" height="80" fill="#fff"/>
<path class="ln" style="stroke-width:1.3" d="M30,695 H572.5 V775 H30 Z M30,734.3 H572.5 M132.5,695 V775 M207,695 V775 M279,695 V775 M352.5,695 V775 M425.5,695 V775 M499,695 V775"/>
<text class="td" x="170" y="723">1</text>
<text class="td" x="244.5" y="723">10</text>
<text class="td" x="317" y="723">20</text>
<text class="td" x="391" y="723">30</text>
<text class="td" x="464" y="723">40</text>
<text class="td" x="538" y="723">50</text>
<text class="td" x="170" y="764">7.5</text>
</g>
<g id="texts">
<text class="m" x="270.8" y="26.3" textLength="289.2" lengthAdjust="spacingAndGlyphs">Sherri added <tspan class="v">s</tspan> sugar to the Blueberry Bubble soda</text>
<text class="m" x="270.8" y="42.1" textLength="286.0" lengthAdjust="spacingAndGlyphs">mix. Clyde added 4 times as much sugar as Sherri.</text>
<text class="s" x="248.2" y="76.0" textLength="69.4" lengthAdjust="spacingAndGlyphs">Independent</text>
<text class="s" x="273.6" y="91.8" textLength="44.0" lengthAdjust="spacingAndGlyphs">variable:</text>
<text class="s" x="369.0" y="76.0" textLength="60.3" lengthAdjust="spacingAndGlyphs">Dependent</text>
<text class="s" x="385.5" y="91.8" textLength="43.8" lengthAdjust="spacingAndGlyphs">variable:</text>
<text class="s" x="247.3" y="128.3" textLength="151.0" lengthAdjust="spacingAndGlyphs">If <tspan class="v">y</tspan> stands for the amount of</text>
<text class="s" x="247.3" y="144.2" textLength="128.4" lengthAdjust="spacingAndGlyphs">sugar that Clyde added,</text>
<text class="s" x="247.3" y="160.0" textLength="120.4" lengthAdjust="spacingAndGlyphs">express <tspan class="v">y</tspan> in terms of <tspan class="v">s</tspan>.</text>
<text class="m" x="271.3" y="256.3" textLength="293.7" lengthAdjust="spacingAndGlyphs">Rusty added 3<tspan class="v">b</tspan> ounces of BananaBoBana flavoring</text>
<text class="m" x="271.3" y="272.5" textLength="291.0" lengthAdjust="spacingAndGlyphs">to the soda mix. Clyde added 3.5 ounce more than</text>
<text class="m" x="271.3" y="288.8" textLength="34.4" lengthAdjust="spacingAndGlyphs">Rusty.</text>
<text class="s" x="248.2" y="319.0" textLength="69.4" lengthAdjust="spacingAndGlyphs">Independent</text>
<text class="s" x="273.6" y="334.6" textLength="44.0" lengthAdjust="spacingAndGlyphs">variable:</text>
<text class="s" x="367.0" y="319.0" textLength="60.3" lengthAdjust="spacingAndGlyphs">Dependent</text>
<text class="s" x="383.5" y="334.6" textLength="43.8" lengthAdjust="spacingAndGlyphs">variable:</text>
<text class="s" x="247.3" y="366.0" textLength="151.0" lengthAdjust="spacingAndGlyphs">If <tspan class="v">z</tspan> stands for the amount of</text>
<text class="s" x="247.3" y="381.6" textLength="130.4" lengthAdjust="spacingAndGlyphs">BananaBoBana flavoring</text>
<text class="s" x="247.3" y="397.3" textLength="146.7" lengthAdjust="spacingAndGlyphs">that Clyde added, express <tspan class="v">z</tspan></text>
<text class="s" x="247.3" y="412.6" textLength="70.0" lengthAdjust="spacingAndGlyphs">in terms of <tspan class="v">b</tspan>.</text>
<text class="m" x="43.2" y="318.8" textLength="193.1" lengthAdjust="spacingAndGlyphs">There are 450 liters of Cantaloupe</text>
<text class="m" x="43.2" y="335.0" textLength="184.8" lengthAdjust="spacingAndGlyphs">Cream soda. Clyde drinks <tspan class="v">c</tspan> liters</text>
<text class="m" x="43.2" y="351.2" textLength="52.8" lengthAdjust="spacingAndGlyphs">each day.</text>
<text class="s" x="20.0" y="376.0" textLength="68.8" lengthAdjust="spacingAndGlyphs">Independent</text>
<text class="s" x="44.5" y="391.4" textLength="44.3" lengthAdjust="spacingAndGlyphs">variable:</text>
<text class="s" x="140.8" y="376.0" textLength="60.0" lengthAdjust="spacingAndGlyphs">Dependent</text>
<text class="s" x="157.0" y="391.4" textLength="43.8" lengthAdjust="spacingAndGlyphs">variable:</text>
<text class="s" x="19.8" y="418.0" textLength="172.2" lengthAdjust="spacingAndGlyphs">After 30 days, there are <tspan class="v">r</tspan> liters of</text>
<text class="s" x="19.8" y="433.4" textLength="149.0" lengthAdjust="spacingAndGlyphs">Cantaloupe Cream soda left.</text>
<text class="s" x="19.8" y="448.6" textLength="117.4" lengthAdjust="spacingAndGlyphs">Express <tspan class="v">r</tspan> in terms of <tspan class="v">c</tspan>.</text>
<text class="m" x="270.8" y="496.7" textLength="258.8" lengthAdjust="spacingAndGlyphs">Clyde filled each bottle of Fizzy Fig soda with</text>
<text class="m" x="270.8" y="513.0" textLength="241.2" lengthAdjust="spacingAndGlyphs">7.5 grams of carbon dioxide. Clyde filled <tspan class="v">h</tspan></text>
<text class="m" x="270.8" y="529.3" textLength="243.0" lengthAdjust="spacingAndGlyphs">bottles totaling <tspan class="v">k</tspan> grams of carbon dioxide.</text>
<text class="s" x="271.0" y="553.3" textLength="224.5" lengthAdjust="spacingAndGlyphs">If <tspan class="v">h</tspan> stands for the number of bottles filled,</text>
<text class="s" x="271.0" y="569.3" textLength="121.0" lengthAdjust="spacingAndGlyphs">express <tspan class="v">k</tspan> in terms of <tspan class="v">h</tspan>.</text>
<text class="bb" x="20.8" y="216.0" textLength="132.5" lengthAdjust="spacingAndGlyphs">Clyde is new at the <tspan class="sf">SODA</tspan></text>
<text class="bb" x="20.8" y="231.4" textLength="128.0" lengthAdjust="spacingAndGlyphs"><tspan class="sf">FACTORY</tspan> and things are</text>
<text class="bb" x="20.8" y="246.8" textLength="143.0" lengthAdjust="spacingAndGlyphs">going... not great. Help me</text>
<text class="bb" x="20.8" y="262.2" textLength="130.0" lengthAdjust="spacingAndGlyphs">write equations to record</text>
<text class="bb" x="20.8" y="277.6" textLength="123.0" lengthAdjust="spacingAndGlyphs">each of these mistakes.</text>
<text class="s" x="28.5" y="653.5" textLength="127.5" lengthAdjust="spacingAndGlyphs">Fill in the table below to</text>
<text class="s" x="28.5" y="669.0" textLength="115.5" lengthAdjust="spacingAndGlyphs">show the relationship</text>
<text class="s" x="28.5" y="684.3" textLength="93.0" lengthAdjust="spacingAndGlyphs">between <tspan class="v">h</tspan> and <tspan class="v">k</tspan>.</text>
<text class="tl" x="52.5" y="711.0" textLength="56.5" lengthAdjust="spacingAndGlyphs">number of</text>
<text class="tl" x="53.5" y="725.3" textLength="55.5" lengthAdjust="spacingAndGlyphs">bottles (<tspan class="v">h</tspan>)</text>
<text class="tl" x="37.5" y="750.5" textLength="87.5" lengthAdjust="spacingAndGlyphs">grams of carbon</text>
<text class="tl" x="52.5" y="765.0" textLength="57.5" lengthAdjust="spacingAndGlyphs">dioxide (<tspan class="v">k</tspan>)</text>
</g>
</svg>
</body>
</html>
